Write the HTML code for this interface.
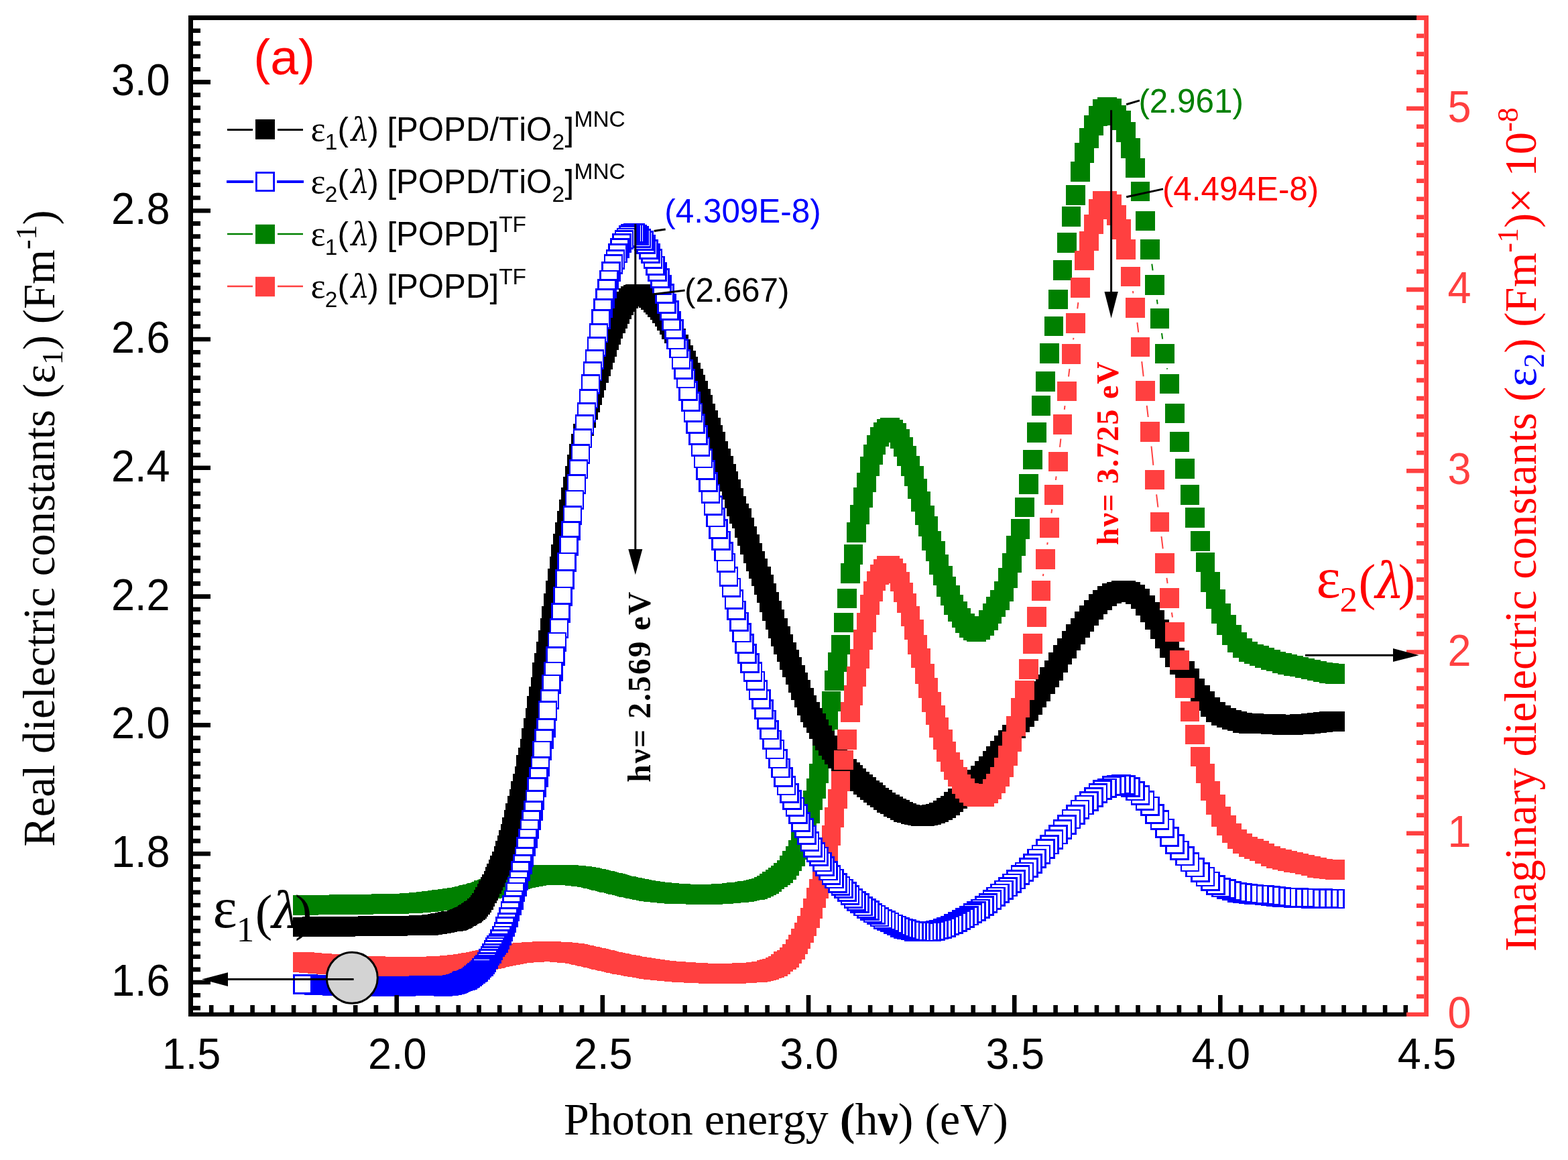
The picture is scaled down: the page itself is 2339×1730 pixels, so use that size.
<!DOCTYPE html>
<html><head><meta charset="utf-8"><title>Dielectric constants plot</title>
<style>
html,body{margin:0;padding:0;background:#fff;width:2339px;height:1730px;overflow:hidden}
svg{display:block}
text{font-kerning:none;font-variant-ligatures:none}
.sans{font-family:'Liberation Sans',Arial,sans-serif}
.serif{font-family:'Liberation Serif','Times New Roman',serif}
</style></head><body>
<svg xmlns="http://www.w3.org/2000/svg" width="2339" height="1730" viewBox="0 0 2339 1730">
<rect width="2339" height="1730" fill="#fff"/>
<path d="M1741.1 550.7L1740.9 549.2M1734.2 505.7L1733 496.9M1726.7 453.5L1725.8 446.9M1719.6 403.4L1718.3 393.6" stroke="#008000" stroke-width="2" fill="none"/>
<path d="M1976.9 990.3h28.8v29.6h-28.8zM1967.8 989.1h28.8v29.6h-28.8zM1958.9 987.6h28.8v29.6h-28.8zM1949.9 985.7h28.8v29.6h-28.8zM1941.1 983.5h28.8v29.6h-28.8zM1932.3 981.5h28.8v29.6h-28.8zM1923.6 979.6h28.8v29.6h-28.8zM1914.9 977.9h28.8v29.6h-28.8zM1906.3 976.2h28.8v29.6h-28.8zM1897.7 974.1h28.8v29.6h-28.8zM1889.2 971.6h28.8v29.6h-28.8zM1880.8 968.9h28.8v29.6h-28.8zM1872.4 966.1h28.8v29.6h-28.8zM1864 963.1h28.8v29.6h-28.8zM1855.8 960.7h28.8v29.6h-28.8zM1847.5 957.3h28.8v29.6h-28.8zM1839.4 951.8h28.8v29.6h-28.8zM1831.2 943.1h28.8v29.6h-28.8zM1823.2 932h28.8v29.6h-28.8zM1815.2 917.1h28.8v29.6h-28.8zM1807.2 900.4h28.8v29.6h-28.8zM1799.3 878.7h28.8v29.6h-28.8zM1791.4 853.3h28.8v29.6h-28.8zM1783.6 823.6h28.8v29.6h-28.8zM1775.9 792.3h28.8v29.6h-28.8zM1768.1 757.4h28.8v29.6h-28.8zM1760.5 723.2h28.8v29.6h-28.8zM1752.9 684.2h28.8v29.6h-28.8zM1745.3 644.3h28.8v29.6h-28.8zM1737.8 601.8h28.8v29.6h-28.8zM1730.3 557.6h28.8v29.6h-28.8zM1722.9 512.6h28.8v29.6h-28.8zM1715.5 460.4h28.8v29.6h-28.8zM1708.2 410.4h28.8v29.6h-28.8zM1700.9 357.1h28.8v29.6h-28.8zM1693.7 314.8h28.8v29.6h-28.8zM1686.5 270.5h28.8v29.6h-28.8zM1679.3 235.8h28.8v29.6h-28.8zM1672.2 205.9h28.8v29.6h-28.8zM1665.1 181.9h28.8v29.6h-28.8zM1658.1 164.5h28.8v29.6h-28.8zM1651.1 157.2h28.8v29.6h-28.8zM1644.2 147.2h28.8v29.6h-28.8zM1637.3 144.9h28.8v29.6h-28.8zM1630.4 148.4h28.8v29.6h-28.8zM1623.6 158h28.8v29.6h-28.8zM1616.8 172.4h28.8v29.6h-28.8zM1610.1 191.1h28.8v29.6h-28.8zM1603.4 213.2h28.8v29.6h-28.8zM1596.7 241h28.8v29.6h-28.8zM1590.1 276.1h28.8v29.6h-28.8zM1583.6 308.1h28.8v29.6h-28.8zM1577 346.9h28.8v29.6h-28.8zM1570.5 387.9h28.8v29.6h-28.8zM1564.1 431.6h28.8v29.6h-28.8zM1557.6 471.7h28.8v29.6h-28.8zM1551.2 512.4h28.8v29.6h-28.8zM1544.9 553.9h28.8v29.6h-28.8zM1538.6 590.2h28.8v29.6h-28.8zM1532.3 630h28.8v29.6h-28.8zM1526.1 670.8h28.8v29.6h-28.8zM1519.8 707h28.8v29.6h-28.8zM1513.7 741.5h28.8v29.6h-28.8zM1507.5 774.4h28.8v29.6h-28.8zM1501.4 799.1h28.8v29.6h-28.8zM1495.4 824.6h28.8v29.6h-28.8zM1489.3 847.2h28.8v29.6h-28.8zM1483.3 867.1h28.8v29.6h-28.8zM1477.4 880.3h28.8v29.6h-28.8zM1471.4 890.3h28.8v29.6h-28.8zM1465.5 900.2h28.8v29.6h-28.8zM1459.7 910h28.8v29.6h-28.8zM1453.8 918.5h28.8v29.6h-28.8zM1448 924.5h28.8v29.6h-28.8zM1442.3 927h28.8v29.6h-28.8zM1436.5 925.6h28.8v29.6h-28.8zM1430.8 921.3h28.8v29.6h-28.8zM1425.1 914.8h28.8v29.6h-28.8zM1419.5 906.6h28.8v29.6h-28.8zM1413.9 897.2h28.8v29.6h-28.8zM1408.3 887.3h28.8v29.6h-28.8zM1402.7 873.1h28.8v29.6h-28.8zM1397.2 859.9h28.8v29.6h-28.8zM1391.7 843.5h28.8v29.6h-28.8zM1386.2 827.1h28.8v29.6h-28.8zM1380.8 807.2h28.8v29.6h-28.8zM1375.4 791.5h28.8v29.6h-28.8zM1370 770.4h28.8v29.6h-28.8zM1364.7 753.5h28.8v29.6h-28.8zM1359.4 733h28.8v29.6h-28.8zM1354.1 714.4h28.8v29.6h-28.8zM1348.8 695h28.8v29.6h-28.8zM1343.6 680.3h28.8v29.6h-28.8zM1338.3 664.9h28.8v29.6h-28.8zM1333.2 651.6h28.8v29.6h-28.8zM1328 639.5h28.8v29.6h-28.8zM1322.9 630.5h28.8v29.6h-28.8zM1317.8 625.8h28.8v29.6h-28.8zM1312.7 623.2h28.8v29.6h-28.8zM1307.6 624.6h28.8v29.6h-28.8zM1302.6 629.7h28.8v29.6h-28.8zM1297.6 636.7h28.8v29.6h-28.8zM1292.6 648.6h28.8v29.6h-28.8zM1287.7 663.4h28.8v29.6h-28.8zM1282.8 680.8h28.8v29.6h-28.8zM1277.9 704.8h28.8v29.6h-28.8zM1273 727.2h28.8v29.6h-28.8zM1268.1 752.5h28.8v29.6h-28.8zM1263.3 779.2h28.8v29.6h-28.8zM1258.5 812h28.8v29.6h-28.8zM1253.7 839.9h28.8v29.6h-28.8zM1249 877.7h28.8v29.6h-28.8zM1244.3 913.6h28.8v29.6h-28.8zM1239.5 946.6h28.8v29.6h-28.8zM1234.9 972.8h28.8v29.6h-28.8zM1230.2 1000.1h28.8v29.6h-28.8zM1225.6 1031.3h28.8v29.6h-28.8zM1221 1058.7h28.8v29.6h-28.8zM1216.4 1083.9h28.8v29.6h-28.8zM1211.8 1109.3h28.8v29.6h-28.8zM1207.2 1138.7h28.8v29.6h-28.8zM1202.7 1161.4h28.8v29.6h-28.8zM1198.2 1178.5h28.8v29.6h-28.8zM1193.7 1198.2h28.8v29.6h-28.8zM1189.3 1214h28.8v29.6h-28.8zM1184.8 1228.4h28.8v29.6h-28.8zM1180.4 1241.4h28.8v29.6h-28.8zM1176 1252.6h28.8v29.6h-28.8zM1171.7 1261.9h28.8v29.6h-28.8zM1167.3 1269h28.8v29.6h-28.8zM1163 1276.2h28.8v29.6h-28.8zM1158.7 1282.6h28.8v29.6h-28.8zM1154.4 1287.3h28.8v29.6h-28.8zM1150.1 1290.6h28.8v29.6h-28.8zM1145.8 1293.5h28.8v29.6h-28.8zM1141.6 1296.8h28.8v29.6h-28.8zM1137.4 1300h28.8v29.6h-28.8zM1133.2 1303.1h28.8v29.6h-28.8zM1129 1305.7h28.8v29.6h-28.8zM1124.9 1307.8h28.8v29.6h-28.8zM1120.8 1309.5h28.8v29.6h-28.8zM1116.6 1310.9h28.8v29.6h-28.8zM1112.5 1311.9h28.8v29.6h-28.8zM1108.5 1312.7h28.8v29.6h-28.8zM1104.4 1313.6h28.8v29.6h-28.8zM1100.4 1314.4h28.8v29.6h-28.8zM1096.4 1315.1h28.8v29.6h-28.8zM1092.4 1315.6h28.8v29.6h-28.8zM1088.4 1316.1h28.8v29.6h-28.8zM1084.4 1316.4h28.8v29.6h-28.8zM1080.5 1316.8h28.8v29.6h-28.8zM1076.5 1317.2h28.8v29.6h-28.8zM1072.6 1317.5h28.8v29.6h-28.8zM1068.7 1317.8h28.8v29.6h-28.8zM1064.9 1318.1h28.8v29.6h-28.8zM1061 1318.4h28.8v29.6h-28.8zM1057.2 1318.6h28.8v29.6h-28.8zM1053.3 1318.8h28.8v29.6h-28.8zM1049.5 1318.9h28.8v29.6h-28.8zM1045.7 1319h28.8v29.6h-28.8zM1042 1319h28.8v29.6h-28.8zM1038.2 1319h28.8v29.6h-28.8zM1034.5 1319h28.8v29.6h-28.8zM1030.7 1319h28.8v29.6h-28.8zM1027 1318.9h28.8v29.6h-28.8zM1023.3 1318.9h28.8v29.6h-28.8zM1019.7 1318.8h28.8v29.6h-28.8zM1016 1318.8h28.8v29.6h-28.8zM1012.4 1318.7h28.8v29.6h-28.8zM1008.7 1318.6h28.8v29.6h-28.8zM1005.1 1318.5h28.8v29.6h-28.8zM1001.5 1318.4h28.8v29.6h-28.8zM998 1318.3h28.8v29.6h-28.8zM994.4 1318.1h28.8v29.6h-28.8zM990.8 1317.9h28.8v29.6h-28.8zM987.3 1317.7h28.8v29.6h-28.8zM983.8 1317.4h28.8v29.6h-28.8zM980.3 1317.1h28.8v29.6h-28.8zM976.8 1316.8h28.8v29.6h-28.8zM973.3 1316.4h28.8v29.6h-28.8zM969.9 1316.1h28.8v29.6h-28.8zM966.4 1315.7h28.8v29.6h-28.8zM963 1315.4h28.8v29.6h-28.8zM959.6 1314.9h28.8v29.6h-28.8zM956.2 1314.4h28.8v29.6h-28.8zM952.8 1313.9h28.8v29.6h-28.8zM949.4 1313.3h28.8v29.6h-28.8zM946.1 1312.7h28.8v29.6h-28.8zM942.7 1312h28.8v29.6h-28.8zM939.4 1311.4h28.8v29.6h-28.8zM936.1 1310.7h28.8v29.6h-28.8zM932.8 1310.1h28.8v29.6h-28.8zM929.5 1309.4h28.8v29.6h-28.8zM926.2 1308.7h28.8v29.6h-28.8zM923 1308h28.8v29.6h-28.8zM919.7 1307.3h28.8v29.6h-28.8zM916.5 1306.5h28.8v29.6h-28.8zM913.3 1305.7h28.8v29.6h-28.8zM910 1304.8h28.8v29.6h-28.8zM906.9 1304h28.8v29.6h-28.8zM903.7 1303.2h28.8v29.6h-28.8zM900.5 1302.4h28.8v29.6h-28.8zM897.3 1301.6h28.8v29.6h-28.8zM894.2 1300.9h28.8v29.6h-28.8zM891.1 1300.1h28.8v29.6h-28.8zM888 1299.4h28.8v29.6h-28.8zM884.9 1298.7h28.8v29.6h-28.8zM881.8 1297.9h28.8v29.6h-28.8zM878.7 1297.2h28.8v29.6h-28.8zM875.6 1296.4h28.8v29.6h-28.8zM872.6 1295.7h28.8v29.6h-28.8zM869.5 1295h28.8v29.6h-28.8zM866.5 1294.4h28.8v29.6h-28.8zM863.5 1293.7h28.8v29.6h-28.8zM860.5 1293.2h28.8v29.6h-28.8zM857.5 1292.7h28.8v29.6h-28.8zM854.5 1292.3h28.8v29.6h-28.8zM851.5 1292h28.8v29.6h-28.8zM848.5 1291.7h28.8v29.6h-28.8zM845.6 1291.4h28.8v29.6h-28.8zM842.7 1291.1h28.8v29.6h-28.8zM839.7 1290.8h28.8v29.6h-28.8zM836.8 1290.5h28.8v29.6h-28.8zM833.9 1290.3h28.8v29.6h-28.8zM831 1290.1h28.8v29.6h-28.8zM828.2 1289.9h28.8v29.6h-28.8zM825.3 1289.7h28.8v29.6h-28.8zM822.4 1289.6h28.8v29.6h-28.8zM819.6 1289.5h28.8v29.6h-28.8zM816.7 1289.5h28.8v29.6h-28.8zM813.9 1289.5h28.8v29.6h-28.8zM811.1 1289.5h28.8v29.6h-28.8zM808.3 1289.6h28.8v29.6h-28.8zM805.5 1289.7h28.8v29.6h-28.8zM802.7 1289.8h28.8v29.6h-28.8zM800 1289.9h28.8v29.6h-28.8zM797.2 1290h28.8v29.6h-28.8zM794.4 1290.2h28.8v29.6h-28.8zM791.7 1290.4h28.8v29.6h-28.8zM789 1290.7h28.8v29.6h-28.8zM786.3 1291h28.8v29.6h-28.8zM783.6 1291.5h28.8v29.6h-28.8zM780.9 1292h28.8v29.6h-28.8zM778.2 1292.5h28.8v29.6h-28.8zM775.5 1293h28.8v29.6h-28.8zM772.8 1293.6h28.8v29.6h-28.8zM770.2 1294.1h28.8v29.6h-28.8zM767.5 1294.7h28.8v29.6h-28.8zM764.9 1295.4h28.8v29.6h-28.8zM762.2 1296.1h28.8v29.6h-28.8zM759.6 1296.8h28.8v29.6h-28.8zM757 1297.6h28.8v29.6h-28.8zM754.4 1298.4h28.8v29.6h-28.8zM751.8 1299.3h28.8v29.6h-28.8zM749.3 1300.1h28.8v29.6h-28.8zM746.7 1301h28.8v29.6h-28.8zM744.1 1301.9h28.8v29.6h-28.8zM741.6 1302.8h28.8v29.6h-28.8zM739 1303.7h28.8v29.6h-28.8zM736.5 1304.6h28.8v29.6h-28.8zM734 1305.4h28.8v29.6h-28.8zM731.4 1306.3h28.8v29.6h-28.8zM728.9 1307.1h28.8v29.6h-28.8zM726.4 1307.9h28.8v29.6h-28.8zM724 1308.7h28.8v29.6h-28.8zM721.5 1309.4h28.8v29.6h-28.8zM719 1310.1h28.8v29.6h-28.8zM716.5 1310.7h28.8v29.6h-28.8zM714.1 1311.3h28.8v29.6h-28.8zM711.7 1311.8h28.8v29.6h-28.8zM709.2 1312.5h28.8v29.6h-28.8zM706.8 1313.4h28.8v29.6h-28.8zM704.4 1314.5h28.8v29.6h-28.8zM702 1315.6h28.8v29.6h-28.8zM699.6 1316.5h28.8v29.6h-28.8zM697.2 1317.3h28.8v29.6h-28.8zM694.8 1318h28.8v29.6h-28.8zM692.4 1318.6h28.8v29.6h-28.8zM690 1319.3h28.8v29.6h-28.8zM687.7 1319.8h28.8v29.6h-28.8zM685.3 1320.4h28.8v29.6h-28.8zM683 1321h28.8v29.6h-28.8zM680.7 1321.5h28.8v29.6h-28.8zM678.3 1322.1h28.8v29.6h-28.8zM676 1322.6h28.8v29.6h-28.8zM673.7 1323.1h28.8v29.6h-28.8zM671.4 1323.6h28.8v29.6h-28.8zM669.1 1324h28.8v29.6h-28.8zM666.8 1324.4h28.8v29.6h-28.8zM664.6 1324.7h28.8v29.6h-28.8zM662.3 1325h28.8v29.6h-28.8zM660 1325.4h28.8v29.6h-28.8zM657.8 1325.7h28.8v29.6h-28.8zM655.5 1325.9h28.8v29.6h-28.8zM653.3 1326.2h28.8v29.6h-28.8zM651.1 1326.5h28.8v29.6h-28.8zM648.8 1326.8h28.8v29.6h-28.8zM646.6 1327.1h28.8v29.6h-28.8zM644.4 1327.4h28.8v29.6h-28.8zM642.2 1327.7h28.8v29.6h-28.8zM640 1328h28.8v29.6h-28.8zM637.8 1328.3h28.8v29.6h-28.8zM635.6 1328.6h28.8v29.6h-28.8zM633.5 1328.9h28.8v29.6h-28.8zM631.3 1329.1h28.8v29.6h-28.8zM629.2 1329.4h28.8v29.6h-28.8zM627 1329.6h28.8v29.6h-28.8zM624.9 1329.9h28.8v29.6h-28.8zM622.7 1330.1h28.8v29.6h-28.8zM620.6 1330.3h28.8v29.6h-28.8zM618.5 1330.6h28.8v29.6h-28.8zM616.4 1330.7h28.8v29.6h-28.8zM614.3 1330.9h28.8v29.6h-28.8zM612.2 1331.1h28.8v29.6h-28.8zM610.1 1331.3h28.8v29.6h-28.8zM608 1331.5h28.8v29.6h-28.8zM605.9 1331.7h28.8v29.6h-28.8zM603.8 1331.8h28.8v29.6h-28.8zM601.8 1332h28.8v29.6h-28.8zM599.7 1332.1h28.8v29.6h-28.8zM597.7 1332.3h28.8v29.6h-28.8zM595.6 1332.4h28.8v29.6h-28.8zM593.6 1332.5h28.8v29.6h-28.8zM591.5 1332.6h28.8v29.6h-28.8zM589.5 1332.7h28.8v29.6h-28.8zM587.5 1332.7h28.8v29.6h-28.8zM585.5 1332.8h28.8v29.6h-28.8zM583.5 1332.8h28.8v29.6h-28.8zM581.5 1332.9h28.8v29.6h-28.8zM579.5 1332.9h28.8v29.6h-28.8zM577.5 1333h28.8v29.6h-28.8zM575.5 1333h28.8v29.6h-28.8zM573.6 1333.1h28.8v29.6h-28.8zM571.6 1333.1h28.8v29.6h-28.8zM569.6 1333.1h28.8v29.6h-28.8zM567.7 1333.2h28.8v29.6h-28.8zM565.7 1333.2h28.8v29.6h-28.8zM563.8 1333.3h28.8v29.6h-28.8zM561.8 1333.3h28.8v29.6h-28.8zM559.9 1333.3h28.8v29.6h-28.8zM558 1333.4h28.8v29.6h-28.8zM556.1 1333.4h28.8v29.6h-28.8zM554.2 1333.4h28.8v29.6h-28.8zM552.3 1333.5h28.8v29.6h-28.8zM550.4 1333.5h28.8v29.6h-28.8zM548.5 1333.5h28.8v29.6h-28.8zM546.6 1333.6h28.8v29.6h-28.8zM544.7 1333.6h28.8v29.6h-28.8zM542.8 1333.6h28.8v29.6h-28.8zM541 1333.7h28.8v29.6h-28.8zM539.1 1333.7h28.8v29.6h-28.8zM537.2 1333.7h28.8v29.6h-28.8zM535.4 1333.8h28.8v29.6h-28.8zM533.5 1333.8h28.8v29.6h-28.8zM531.7 1333.8h28.8v29.6h-28.8zM529.9 1333.8h28.8v29.6h-28.8zM528 1333.9h28.8v29.6h-28.8zM526.2 1333.9h28.8v29.6h-28.8zM524.4 1333.9h28.8v29.6h-28.8zM522.6 1334h28.8v29.6h-28.8zM520.8 1334h28.8v29.6h-28.8zM519 1334h28.8v29.6h-28.8zM517.2 1334.1h28.8v29.6h-28.8zM515.4 1334.1h28.8v29.6h-28.8zM513.6 1334.1h28.8v29.6h-28.8zM511.8 1334.1h28.8v29.6h-28.8zM510 1334.2h28.8v29.6h-28.8zM508.3 1334.2h28.8v29.6h-28.8zM506.5 1334.2h28.8v29.6h-28.8zM504.8 1334.2h28.8v29.6h-28.8zM503 1334.3h28.8v29.6h-28.8zM501.3 1334.3h28.8v29.6h-28.8zM499.5 1334.3h28.8v29.6h-28.8zM497.8 1334.3h28.8v29.6h-28.8zM496 1334.4h28.8v29.6h-28.8zM494.3 1334.4h28.8v29.6h-28.8zM492.6 1334.4h28.8v29.6h-28.8zM490.9 1334.4h28.8v29.6h-28.8zM489.2 1334.5h28.8v29.6h-28.8zM487.5 1334.5h28.8v29.6h-28.8zM485.8 1334.5h28.8v29.6h-28.8zM484.1 1334.5h28.8v29.6h-28.8zM482.4 1334.5h28.8v29.6h-28.8zM480.7 1334.6h28.8v29.6h-28.8zM479 1334.6h28.8v29.6h-28.8zM477.3 1334.6h28.8v29.6h-28.8zM475.7 1334.6h28.8v29.6h-28.8zM474 1334.6h28.8v29.6h-28.8zM472.3 1334.6h28.8v29.6h-28.8zM470.7 1334.7h28.8v29.6h-28.8zM469 1334.7h28.8v29.6h-28.8zM467.4 1334.7h28.8v29.6h-28.8zM465.8 1334.7h28.8v29.6h-28.8zM464.1 1334.7h28.8v29.6h-28.8zM462.5 1334.7h28.8v29.6h-28.8zM460.9 1334.8h28.8v29.6h-28.8zM459.2 1334.8h28.8v29.6h-28.8zM457.6 1334.8h28.8v29.6h-28.8zM456 1334.8h28.8v29.6h-28.8zM454.4 1334.8h28.8v29.6h-28.8zM452.8 1334.8h28.8v29.6h-28.8zM451.2 1334.8h28.8v29.6h-28.8zM449.6 1334.8h28.8v29.6h-28.8zM448 1334.8h28.8v29.6h-28.8zM446.4 1334.9h28.8v29.6h-28.8zM444.8 1334.9h28.8v29.6h-28.8zM443.3 1334.9h28.8v29.6h-28.8zM441.7 1334.9h28.8v29.6h-28.8zM440.1 1334.9h28.8v29.6h-28.8zM438.6 1334.9h28.8v29.6h-28.8zM437 1334.9h28.8v29.6h-28.8z" fill="#008000" shape-rendering="crispEdges"/>

<path d="M1976.9 1061h28.8v29.6h-28.8zM1967.8 1061.3h28.8v29.6h-28.8zM1958.9 1061.9h28.8v29.6h-28.8zM1949.9 1063h28.8v29.6h-28.8zM1941.1 1063.9h28.8v29.6h-28.8zM1932.3 1064.9h28.8v29.6h-28.8zM1923.6 1065.4h28.8v29.6h-28.8zM1914.9 1065.9h28.8v29.6h-28.8zM1906.3 1066.1h28.8v29.6h-28.8zM1897.7 1066.1h28.8v29.6h-28.8zM1889.2 1065.3h28.8v29.6h-28.8zM1880.8 1064.9h28.8v29.6h-28.8zM1872.4 1064.7h28.8v29.6h-28.8zM1864 1064.5h28.8v29.6h-28.8zM1855.8 1064.3h28.8v29.6h-28.8zM1847.5 1063.9h28.8v29.6h-28.8zM1839.4 1063.3h28.8v29.6h-28.8zM1831.2 1060.7h28.8v29.6h-28.8zM1823.2 1058.7h28.8v29.6h-28.8zM1815.2 1055.7h28.8v29.6h-28.8zM1807.2 1052.3h28.8v29.6h-28.8zM1799.3 1047.3h28.8v29.6h-28.8zM1791.4 1039.5h28.8v29.6h-28.8zM1783.6 1030.5h28.8v29.6h-28.8zM1775.9 1021.7h28.8v29.6h-28.8zM1768.1 1011.6h28.8v29.6h-28.8zM1760.5 997.3h28.8v29.6h-28.8zM1752.9 985.6h28.8v29.6h-28.8zM1745.3 976.1h28.8v29.6h-28.8zM1737.8 965.6h28.8v29.6h-28.8zM1730.3 951.4h28.8v29.6h-28.8zM1722.9 937h28.8v29.6h-28.8zM1715.5 923.6h28.8v29.6h-28.8zM1708.2 909.7h28.8v29.6h-28.8zM1700.9 897.9h28.8v29.6h-28.8zM1693.7 888h28.8v29.6h-28.8zM1686.5 878.1h28.8v29.6h-28.8zM1679.3 871.8h28.8v29.6h-28.8zM1672.2 867.9h28.8v29.6h-28.8zM1665.1 866.2h28.8v29.6h-28.8zM1658.1 866.1h28.8v29.6h-28.8zM1651.1 867.7h28.8v29.6h-28.8zM1644.2 870.4h28.8v29.6h-28.8zM1637.3 873.9h28.8v29.6h-28.8zM1630.4 879.9h28.8v29.6h-28.8zM1623.6 886.4h28.8v29.6h-28.8zM1616.8 894.5h28.8v29.6h-28.8zM1610.1 903.1h28.8v29.6h-28.8zM1603.4 912.4h28.8v29.6h-28.8zM1596.7 921.8h28.8v29.6h-28.8zM1590.1 931.1h28.8v29.6h-28.8zM1583.6 940.5h28.8v29.6h-28.8zM1577 952.2h28.8v29.6h-28.8zM1570.5 961.6h28.8v29.6h-28.8zM1564.1 973.3h28.8v29.6h-28.8zM1557.6 984.9h28.8v29.6h-28.8zM1551.2 995.4h28.8v29.6h-28.8zM1544.9 1005.6h28.8v29.6h-28.8zM1538.6 1016h28.8v29.6h-28.8zM1532.3 1025.8h28.8v29.6h-28.8zM1526.1 1036.2h28.8v29.6h-28.8zM1519.8 1045.4h28.8v29.6h-28.8zM1513.7 1054.8h28.8v29.6h-28.8zM1507.5 1062.5h28.8v29.6h-28.8zM1501.4 1071.6h28.8v29.6h-28.8zM1495.4 1080.7h28.8v29.6h-28.8zM1489.3 1088.7h28.8v29.6h-28.8zM1483.3 1096.9h28.8v29.6h-28.8zM1477.4 1105h28.8v29.6h-28.8zM1471.4 1112.9h28.8v29.6h-28.8zM1465.5 1119.8h28.8v29.6h-28.8zM1459.7 1127.8h28.8v29.6h-28.8zM1453.8 1134.7h28.8v29.6h-28.8zM1448 1141.5h28.8v29.6h-28.8zM1442.3 1147.8h28.8v29.6h-28.8zM1436.5 1153.9h28.8v29.6h-28.8zM1430.8 1159.7h28.8v29.6h-28.8zM1425.1 1165.3h28.8v29.6h-28.8zM1419.5 1170.8h28.8v29.6h-28.8zM1413.9 1176h28.8v29.6h-28.8zM1408.3 1180.9h28.8v29.6h-28.8zM1402.7 1186.5h28.8v29.6h-28.8zM1397.2 1190h28.8v29.6h-28.8zM1391.7 1193.7h28.8v29.6h-28.8zM1386.2 1196.6h28.8v29.6h-28.8zM1380.8 1198.5h28.8v29.6h-28.8zM1375.4 1200h28.8v29.6h-28.8zM1370 1201.1h28.8v29.6h-28.8zM1364.7 1202h28.8v29.6h-28.8zM1359.4 1202.1h28.8v29.6h-28.8zM1354.1 1201.6h28.8v29.6h-28.8zM1348.8 1200.7h28.8v29.6h-28.8zM1343.6 1199.6h28.8v29.6h-28.8zM1338.3 1197.7h28.8v29.6h-28.8zM1333.2 1196.1h28.8v29.6h-28.8zM1328 1193h28.8v29.6h-28.8zM1322.9 1190.7h28.8v29.6h-28.8zM1317.8 1187.9h28.8v29.6h-28.8zM1312.7 1184.8h28.8v29.6h-28.8zM1307.6 1181.9h28.8v29.6h-28.8zM1302.6 1177.9h28.8v29.6h-28.8zM1297.6 1174.7h28.8v29.6h-28.8zM1292.6 1171.2h28.8v29.6h-28.8zM1287.7 1167.1h28.8v29.6h-28.8zM1282.8 1163.8h28.8v29.6h-28.8zM1277.9 1158.9h28.8v29.6h-28.8zM1273 1154.9h28.8v29.6h-28.8zM1268.1 1150.5h28.8v29.6h-28.8zM1263.3 1146h28.8v29.6h-28.8zM1258.5 1141.3h28.8v29.6h-28.8zM1253.7 1136.6h28.8v29.6h-28.8zM1249 1132.3h28.8v29.6h-28.8zM1244.3 1127.2h28.8v29.6h-28.8zM1239.5 1121.9h28.8v29.6h-28.8zM1234.9 1116.2h28.8v29.6h-28.8zM1230.2 1110.2h28.8v29.6h-28.8zM1225.6 1103.8h28.8v29.6h-28.8zM1221 1097h28.8v29.6h-28.8zM1216.4 1089.8h28.8v29.6h-28.8zM1211.8 1082.1h28.8v29.6h-28.8zM1207.2 1072.8h28.8v29.6h-28.8zM1202.7 1063.6h28.8v29.6h-28.8zM1198.2 1055.5h28.8v29.6h-28.8zM1193.7 1047h28.8v29.6h-28.8zM1189.3 1037.3h28.8v29.6h-28.8zM1184.8 1025.8h28.8v29.6h-28.8zM1180.4 1014.3h28.8v29.6h-28.8zM1176 1002.9h28.8v29.6h-28.8zM1171.7 991.7h28.8v29.6h-28.8zM1167.3 980.4h28.8v29.6h-28.8zM1163 969.1h28.8v29.6h-28.8zM1158.7 957.6h28.8v29.6h-28.8zM1154.4 946h28.8v29.6h-28.8zM1150.1 934.2h28.8v29.6h-28.8zM1145.8 921.9h28.8v29.6h-28.8zM1141.6 908.9h28.8v29.6h-28.8zM1137.4 895.9h28.8v29.6h-28.8zM1133.2 883.4h28.8v29.6h-28.8zM1129 869.8h28.8v29.6h-28.8zM1124.9 857h28.8v29.6h-28.8zM1120.8 844.6h28.8v29.6h-28.8zM1116.6 833h28.8v29.6h-28.8zM1112.5 822.1h28.8v29.6h-28.8zM1108.5 809.9h28.8v29.6h-28.8zM1104.4 797.4h28.8v29.6h-28.8zM1100.4 784.6h28.8v29.6h-28.8zM1096.4 772.3h28.8v29.6h-28.8zM1092.4 758.2h28.8v29.6h-28.8zM1088.4 751.3h28.8v29.6h-28.8zM1084.4 740.1h28.8v29.6h-28.8zM1080.5 728h28.8v29.6h-28.8zM1076.5 715.2h28.8v29.6h-28.8zM1072.6 703.3h28.8v29.6h-28.8zM1068.7 691.9h28.8v29.6h-28.8zM1064.9 680.3h28.8v29.6h-28.8zM1061 669.3h28.8v29.6h-28.8zM1057.2 658.1h28.8v29.6h-28.8zM1053.3 643.6h28.8v29.6h-28.8zM1049.5 633.5h28.8v29.6h-28.8zM1045.7 623.1h28.8v29.6h-28.8zM1042 612.3h28.8v29.6h-28.8zM1038.2 601.5h28.8v29.6h-28.8zM1034.5 589.2h28.8v29.6h-28.8zM1030.7 579.8h28.8v29.6h-28.8zM1027 568.3h28.8v29.6h-28.8zM1023.3 559h28.8v29.6h-28.8zM1019.7 550.3h28.8v29.6h-28.8zM1016 541.4h28.8v29.6h-28.8zM1012.4 531.8h28.8v29.6h-28.8zM1008.7 523.1h28.8v29.6h-28.8zM1005.1 514.8h28.8v29.6h-28.8zM1001.5 506h28.8v29.6h-28.8zM998 498.8h28.8v29.6h-28.8zM994.4 489.8h28.8v29.6h-28.8zM990.8 482.3h28.8v29.6h-28.8zM987.3 476.5h28.8v29.6h-28.8zM983.8 469.6h28.8v29.6h-28.8zM980.3 463.5h28.8v29.6h-28.8zM976.8 457.6h28.8v29.6h-28.8zM973.3 452.6h28.8v29.6h-28.8zM969.9 447.1h28.8v29.6h-28.8zM966.4 443.4h28.8v29.6h-28.8zM963 439.4h28.8v29.6h-28.8zM959.6 436.1h28.8v29.6h-28.8zM956.2 432.8h28.8v29.6h-28.8zM952.8 429.7h28.8v29.6h-28.8zM949.4 427.1h28.8v29.6h-28.8zM946.1 425.2h28.8v29.6h-28.8zM942.7 424.1h28.8v29.6h-28.8zM939.4 424h28.8v29.6h-28.8zM936.1 424h28.8v29.6h-28.8zM932.8 424.1h28.8v29.6h-28.8zM929.5 424.7h28.8v29.6h-28.8zM926.2 426.9h28.8v29.6h-28.8zM923 430.4h28.8v29.6h-28.8zM919.7 435.2h28.8v29.6h-28.8zM916.5 440.6h28.8v29.6h-28.8zM913.3 446.6h28.8v29.6h-28.8zM910 453.1h28.8v29.6h-28.8zM906.9 460.2h28.8v29.6h-28.8zM903.7 467.7h28.8v29.6h-28.8zM900.5 475.6h28.8v29.6h-28.8zM897.3 484h28.8v29.6h-28.8zM894.2 492.8h28.8v29.6h-28.8zM891.1 502h28.8v29.6h-28.8zM888 511.5h28.8v29.6h-28.8zM884.9 521.3h28.8v29.6h-28.8zM881.8 531.4h28.8v29.6h-28.8zM878.7 541.8h28.8v29.6h-28.8zM875.6 552.4h28.8v29.6h-28.8zM872.6 563.2h28.8v29.6h-28.8zM869.5 574.2h28.8v29.6h-28.8zM866.5 585.4h28.8v29.6h-28.8zM863.5 596.8h28.8v29.6h-28.8zM860.5 608.3h28.8v29.6h-28.8zM857.5 619.9h28.8v29.6h-28.8zM854.5 631.7h28.8v29.6h-28.8zM851.5 646.5h28.8v29.6h-28.8zM848.5 662.4h28.8v29.6h-28.8zM845.6 678.1h28.8v29.6h-28.8zM842.7 694.9h28.8v29.6h-28.8zM839.7 710.8h28.8v29.6h-28.8zM836.8 727.3h28.8v29.6h-28.8zM833.9 744.9h28.8v29.6h-28.8zM831 762.2h28.8v29.6h-28.8zM828.2 778.6h28.8v29.6h-28.8zM825.3 795.8h28.8v29.6h-28.8zM822.4 812.4h28.8v29.6h-28.8zM819.6 829.8h28.8v29.6h-28.8zM816.7 847.9h28.8v29.6h-28.8zM813.9 866.4h28.8v29.6h-28.8zM811.1 885.1h28.8v29.6h-28.8zM808.3 903.8h28.8v29.6h-28.8zM805.5 922.2h28.8v29.6h-28.8zM802.7 940.1h28.8v29.6h-28.8zM800 957.4h28.8v29.6h-28.8zM797.2 973.7h28.8v29.6h-28.8zM794.4 988.3h28.8v29.6h-28.8zM791.7 1009.8h28.8v29.6h-28.8zM789 1023.9h28.8v29.6h-28.8zM786.3 1038.2h28.8v29.6h-28.8zM783.6 1056.3h28.8v29.6h-28.8zM780.9 1071.4h28.8v29.6h-28.8zM778.2 1085.7h28.8v29.6h-28.8zM775.5 1101.7h28.8v29.6h-28.8zM772.8 1114.9h28.8v29.6h-28.8zM770.2 1126.3h28.8v29.6h-28.8zM767.5 1142.5h28.8v29.6h-28.8zM764.9 1154h28.8v29.6h-28.8zM762.2 1165.1h28.8v29.6h-28.8zM759.6 1176.6h28.8v29.6h-28.8zM757 1187.4h28.8v29.6h-28.8zM754.4 1197.8h28.8v29.6h-28.8zM751.8 1208.2h28.8v29.6h-28.8zM749.3 1218.7h28.8v29.6h-28.8zM746.7 1228.8h28.8v29.6h-28.8zM744.1 1237.9h28.8v29.6h-28.8zM741.6 1246.4h28.8v29.6h-28.8zM739 1254.4h28.8v29.6h-28.8zM736.5 1262h28.8v29.6h-28.8zM734 1269.6h28.8v29.6h-28.8zM731.4 1276.4h28.8v29.6h-28.8zM728.9 1282.3h28.8v29.6h-28.8zM726.4 1287.8h28.8v29.6h-28.8zM724 1293.3h28.8v29.6h-28.8zM721.5 1298.5h28.8v29.6h-28.8zM719 1303.5h28.8v29.6h-28.8zM716.5 1308.2h28.8v29.6h-28.8zM714.1 1313h28.8v29.6h-28.8zM711.7 1317.8h28.8v29.6h-28.8zM709.2 1322.5h28.8v29.6h-28.8zM706.8 1327.2h28.8v29.6h-28.8zM704.4 1331.5h28.8v29.6h-28.8zM702 1334.8h28.8v29.6h-28.8zM699.6 1337.8h28.8v29.6h-28.8zM697.2 1340.3h28.8v29.6h-28.8zM694.8 1342.5h28.8v29.6h-28.8zM692.4 1344.3h28.8v29.6h-28.8zM690 1345.9h28.8v29.6h-28.8zM687.7 1347.3h28.8v29.6h-28.8zM685.3 1348.7h28.8v29.6h-28.8zM683 1350.1h28.8v29.6h-28.8zM680.7 1351.5h28.8v29.6h-28.8zM678.3 1352.8h28.8v29.6h-28.8zM676 1354h28.8v29.6h-28.8zM673.7 1355.2h28.8v29.6h-28.8zM671.4 1356.4h28.8v29.6h-28.8zM669.1 1357.4h28.8v29.6h-28.8zM666.8 1358.1h28.8v29.6h-28.8zM664.6 1358.5h28.8v29.6h-28.8zM662.3 1358.9h28.8v29.6h-28.8zM660 1359.2h28.8v29.6h-28.8zM657.8 1359.4h28.8v29.6h-28.8zM655.5 1359.7h28.8v29.6h-28.8zM653.3 1360.1h28.8v29.6h-28.8zM651.1 1360.6h28.8v29.6h-28.8zM648.8 1361.1h28.8v29.6h-28.8zM646.6 1361.6h28.8v29.6h-28.8zM644.4 1362h28.8v29.6h-28.8zM642.2 1362.4h28.8v29.6h-28.8zM640 1362.8h28.8v29.6h-28.8zM637.8 1363.1h28.8v29.6h-28.8zM635.6 1363.5h28.8v29.6h-28.8zM633.5 1363.8h28.8v29.6h-28.8zM631.3 1364.1h28.8v29.6h-28.8zM629.2 1364.4h28.8v29.6h-28.8zM627 1364.7h28.8v29.6h-28.8zM624.9 1364.9h28.8v29.6h-28.8zM622.7 1365.1h28.8v29.6h-28.8zM620.6 1365.2h28.8v29.6h-28.8zM618.5 1365.2h28.8v29.6h-28.8zM616.4 1365.3h28.8v29.6h-28.8zM614.3 1365.4h28.8v29.6h-28.8zM612.2 1365.4h28.8v29.6h-28.8zM610.1 1365.4h28.8v29.6h-28.8zM608 1365.5h28.8v29.6h-28.8zM605.9 1365.5h28.8v29.6h-28.8zM603.8 1365.6h28.8v29.6h-28.8zM601.8 1365.6h28.8v29.6h-28.8zM599.7 1365.6h28.8v29.6h-28.8zM597.7 1365.7h28.8v29.6h-28.8zM595.6 1365.7h28.8v29.6h-28.8zM593.6 1365.7h28.8v29.6h-28.8zM591.5 1365.7h28.8v29.6h-28.8zM589.5 1365.8h28.8v29.6h-28.8zM587.5 1365.8h28.8v29.6h-28.8zM585.5 1365.8h28.8v29.6h-28.8zM583.5 1365.8h28.8v29.6h-28.8zM581.5 1365.8h28.8v29.6h-28.8zM579.5 1365.9h28.8v29.6h-28.8zM577.5 1365.9h28.8v29.6h-28.8zM575.5 1365.9h28.8v29.6h-28.8zM573.6 1365.9h28.8v29.6h-28.8zM571.6 1365.9h28.8v29.6h-28.8zM569.6 1366h28.8v29.6h-28.8zM567.7 1366h28.8v29.6h-28.8zM565.7 1366h28.8v29.6h-28.8zM563.8 1366h28.8v29.6h-28.8zM561.8 1366.1h28.8v29.6h-28.8zM559.9 1366.1h28.8v29.6h-28.8zM558 1366.1h28.8v29.6h-28.8zM556.1 1366.1h28.8v29.6h-28.8zM554.2 1366.2h28.8v29.6h-28.8zM552.3 1366.2h28.8v29.6h-28.8zM550.4 1366.2h28.8v29.6h-28.8zM548.5 1366.2h28.8v29.6h-28.8zM546.6 1366.3h28.8v29.6h-28.8zM544.7 1366.3h28.8v29.6h-28.8zM542.8 1366.3h28.8v29.6h-28.8zM541 1366.3h28.8v29.6h-28.8zM539.1 1366.4h28.8v29.6h-28.8zM537.2 1366.4h28.8v29.6h-28.8zM535.4 1366.4h28.8v29.6h-28.8zM533.5 1366.4h28.8v29.6h-28.8zM531.7 1366.5h28.8v29.6h-28.8zM529.9 1366.5h28.8v29.6h-28.8zM528 1366.5h28.8v29.6h-28.8zM526.2 1366.5h28.8v29.6h-28.8zM524.4 1366.6h28.8v29.6h-28.8zM522.6 1366.6h28.8v29.6h-28.8zM520.8 1366.6h28.8v29.6h-28.8zM519 1366.6h28.8v29.6h-28.8zM517.2 1366.7h28.8v29.6h-28.8zM515.4 1366.7h28.8v29.6h-28.8zM513.6 1366.7h28.8v29.6h-28.8zM511.8 1366.7h28.8v29.6h-28.8zM510 1366.7h28.8v29.6h-28.8zM508.3 1366.8h28.8v29.6h-28.8zM506.5 1366.8h28.8v29.6h-28.8zM504.8 1366.8h28.8v29.6h-28.8zM503 1366.8h28.8v29.6h-28.8zM501.3 1366.9h28.8v29.6h-28.8zM499.5 1366.9h28.8v29.6h-28.8zM497.8 1366.9h28.8v29.6h-28.8zM496 1366.9h28.8v29.6h-28.8zM494.3 1366.9h28.8v29.6h-28.8zM492.6 1367h28.8v29.6h-28.8zM490.9 1367h28.8v29.6h-28.8zM489.2 1367h28.8v29.6h-28.8zM487.5 1367h28.8v29.6h-28.8zM485.8 1367h28.8v29.6h-28.8zM484.1 1367.1h28.8v29.6h-28.8zM482.4 1367.1h28.8v29.6h-28.8zM480.7 1367.1h28.8v29.6h-28.8zM479 1367.1h28.8v29.6h-28.8zM477.3 1367.1h28.8v29.6h-28.8zM475.7 1367.2h28.8v29.6h-28.8zM474 1367.2h28.8v29.6h-28.8zM472.3 1367.2h28.8v29.6h-28.8zM470.7 1367.2h28.8v29.6h-28.8zM469 1367.2h28.8v29.6h-28.8zM467.4 1367.3h28.8v29.6h-28.8zM465.8 1367.3h28.8v29.6h-28.8zM464.1 1367.3h28.8v29.6h-28.8zM462.5 1367.3h28.8v29.6h-28.8zM460.9 1367.3h28.8v29.6h-28.8zM459.2 1367.4h28.8v29.6h-28.8zM457.6 1367.4h28.8v29.6h-28.8zM456 1367.4h28.8v29.6h-28.8zM454.4 1367.4h28.8v29.6h-28.8zM452.8 1367.4h28.8v29.6h-28.8zM451.2 1367.4h28.8v29.6h-28.8zM449.6 1367.5h28.8v29.6h-28.8zM448 1367.5h28.8v29.6h-28.8zM446.4 1367.5h28.8v29.6h-28.8zM444.8 1367.5h28.8v29.6h-28.8zM443.3 1367.5h28.8v29.6h-28.8zM441.7 1367.5h28.8v29.6h-28.8zM440.1 1367.6h28.8v29.6h-28.8zM438.6 1367.6h28.8v29.6h-28.8zM437 1367.6h28.8v29.6h-28.8z" fill="#000" shape-rendering="crispEdges"/>
<path d="M1749 920.6L1747.9 913.5M1741.6 870L1740.4 861.9M1734.7 818.4L1732.5 800M1727.4 756.5L1725.1 737.3M1720.4 693.8L1717.5 665.5M1712.7 622L1710.7 604.9M1705.7 561.4L1703.2 539.2M1698.2 495.7L1696.4 480.9M1690.4 437.4L1689.9 434.1M1608.4 451L1607.2 460.4M1601.4 503.9L1601.1 506.5M1595.4 550L1594 561.6M1588.5 605.1L1587.8 610.9M1582.4 654.4L1581 666.8M1575.6 710.3L1574.9 716M1569.2 759.5L1568.4 765.4M1562.7 808.9L1562.2 812.3M1556.4 855.8L1555.9 859.2" stroke="#FF4040" stroke-width="2" fill="none"/>
<path d="M1976.9 1282.2h28.8v29.6h-28.8zM1967.8 1281.7h28.8v29.6h-28.8zM1958.9 1280.8h28.8v29.6h-28.8zM1949.9 1279.1h28.8v29.6h-28.8zM1941.1 1276.7h28.8v29.6h-28.8zM1932.3 1274.5h28.8v29.6h-28.8zM1923.6 1272.8h28.8v29.6h-28.8zM1914.9 1271.1h28.8v29.6h-28.8zM1906.3 1269.3h28.8v29.6h-28.8zM1897.7 1267.2h28.8v29.6h-28.8zM1889.2 1264.9h28.8v29.6h-28.8zM1880.8 1262.1h28.8v29.6h-28.8zM1872.4 1258.3h28.8v29.6h-28.8zM1864 1254.3h28.8v29.6h-28.8zM1855.8 1251.4h28.8v29.6h-28.8zM1847.5 1248.3h28.8v29.6h-28.8zM1839.4 1243.3h28.8v29.6h-28.8zM1831.2 1236.7h28.8v29.6h-28.8zM1823.2 1227.7h28.8v29.6h-28.8zM1815.2 1216.4h28.8v29.6h-28.8zM1807.2 1203h28.8v29.6h-28.8zM1799.3 1185.4h28.8v29.6h-28.8zM1791.4 1164.6h28.8v29.6h-28.8zM1783.6 1138.6h28.8v29.6h-28.8zM1775.9 1113.7h28.8v29.6h-28.8zM1768.1 1080.6h28.8v29.6h-28.8zM1760.5 1046.1h28.8v29.6h-28.8zM1752.9 1011.2h28.8v29.6h-28.8zM1745.3 969.5h28.8v29.6h-28.8zM1737.8 927.6h28.8v29.6h-28.8zM1730.3 877h28.8v29.6h-28.8zM1722.9 825.4h28.8v29.6h-28.8zM1715.5 763.5h28.8v29.6h-28.8zM1708.2 700.8h28.8v29.6h-28.8zM1700.9 628.9h28.8v29.6h-28.8zM1693.7 568.3h28.8v29.6h-28.8zM1686.5 502.7h28.8v29.6h-28.8zM1679.3 444.4h28.8v29.6h-28.8zM1672.2 397.6h28.8v29.6h-28.8zM1665.1 357h28.8v29.6h-28.8zM1658.1 327.2h28.8v29.6h-28.8zM1651.1 306h28.8v29.6h-28.8zM1644.2 290h28.8v29.6h-28.8zM1637.3 284.6h28.8v29.6h-28.8zM1630.4 284.6h28.8v29.6h-28.8zM1623.6 297.1h28.8v29.6h-28.8zM1616.8 319.5h28.8v29.6h-28.8zM1610.1 344.7h28.8v29.6h-28.8zM1603.4 373.7h28.8v29.6h-28.8zM1596.7 414.4h28.8v29.6h-28.8zM1590.1 467.4h28.8v29.6h-28.8zM1583.6 513.4h28.8v29.6h-28.8zM1577 568.6h28.8v29.6h-28.8zM1570.5 617.9h28.8v29.6h-28.8zM1564.1 673.8h28.8v29.6h-28.8zM1557.6 723h28.8v29.6h-28.8zM1551.2 772.4h28.8v29.6h-28.8zM1544.9 819.3h28.8v29.6h-28.8zM1538.6 866.2h28.8v29.6h-28.8zM1532.3 905h28.8v29.6h-28.8zM1526.1 944.9h28.8v29.6h-28.8zM1519.8 982.9h28.8v29.6h-28.8zM1513.7 1014.7h28.8v29.6h-28.8zM1507.5 1040.8h28.8v29.6h-28.8zM1501.4 1068.4h28.8v29.6h-28.8zM1495.4 1091.2h28.8v29.6h-28.8zM1489.3 1111.9h28.8v29.6h-28.8zM1483.3 1129.8h28.8v29.6h-28.8zM1477.4 1143.7h28.8v29.6h-28.8zM1471.4 1153.7h28.8v29.6h-28.8zM1465.5 1162.4h28.8v29.6h-28.8zM1459.7 1168.7h28.8v29.6h-28.8zM1453.8 1173.1h28.8v29.6h-28.8zM1448 1173.7h28.8v29.6h-28.8zM1442.3 1173.4h28.8v29.6h-28.8zM1436.5 1171.9h28.8v29.6h-28.8zM1430.8 1167.5h28.8v29.6h-28.8zM1425.1 1161.3h28.8v29.6h-28.8zM1419.5 1154.7h28.8v29.6h-28.8zM1413.9 1143.7h28.8v29.6h-28.8zM1408.3 1133h28.8v29.6h-28.8zM1402.7 1121.5h28.8v29.6h-28.8zM1397.2 1106.2h28.8v29.6h-28.8zM1391.7 1088.3h28.8v29.6h-28.8zM1386.2 1070.3h28.8v29.6h-28.8zM1380.8 1051.6h28.8v29.6h-28.8zM1375.4 1032h28.8v29.6h-28.8zM1370 1010.9h28.8v29.6h-28.8zM1364.7 990.3h28.8v29.6h-28.8zM1359.4 966.7h28.8v29.6h-28.8zM1354.1 946.5h28.8v29.6h-28.8zM1348.8 924.4h28.8v29.6h-28.8zM1343.6 904.3h28.8v29.6h-28.8zM1338.3 884.8h28.8v29.6h-28.8zM1333.2 868.5h28.8v29.6h-28.8zM1328 852.7h28.8v29.6h-28.8zM1322.9 840.4h28.8v29.6h-28.8zM1317.8 832.9h28.8v29.6h-28.8zM1312.7 828.6h28.8v29.6h-28.8zM1307.6 829.1h28.8v29.6h-28.8zM1302.6 834h28.8v29.6h-28.8zM1297.6 842h28.8v29.6h-28.8zM1292.6 851.5h28.8v29.6h-28.8zM1287.7 867.2h28.8v29.6h-28.8zM1282.8 887.4h28.8v29.6h-28.8zM1277.9 913.5h28.8v29.6h-28.8zM1273 939.3h28.8v29.6h-28.8zM1268.1 967.5h28.8v29.6h-28.8zM1263.3 993.9h28.8v29.6h-28.8zM1258.5 1022h28.8v29.6h-28.8zM1253.7 1047.1h28.8v29.6h-28.8zM1249 1088.3h28.8v29.6h-28.8zM1244.3 1118.6h28.8v29.6h-28.8zM1239.5 1150.4h28.8v29.6h-28.8zM1234.9 1176.7h28.8v29.6h-28.8zM1230.2 1204.3h28.8v29.6h-28.8zM1225.6 1231.1h28.8v29.6h-28.8zM1221 1256.1h28.8v29.6h-28.8zM1216.4 1279.8h28.8v29.6h-28.8zM1211.8 1298.8h28.8v29.6h-28.8zM1207.2 1310.8h28.8v29.6h-28.8zM1202.7 1323.9h28.8v29.6h-28.8zM1198.2 1340.4h28.8v29.6h-28.8zM1193.7 1354.2h28.8v29.6h-28.8zM1189.3 1366h28.8v29.6h-28.8zM1184.8 1376.2h28.8v29.6h-28.8zM1180.4 1385.4h28.8v29.6h-28.8zM1176 1393.6h28.8v29.6h-28.8zM1171.7 1401.1h28.8v29.6h-28.8zM1167.3 1407.8h28.8v29.6h-28.8zM1163 1413.3h28.8v29.6h-28.8zM1158.7 1416.6h28.8v29.6h-28.8zM1154.4 1419.4h28.8v29.6h-28.8zM1150.1 1423h28.8v29.6h-28.8zM1145.8 1426.2h28.8v29.6h-28.8zM1141.6 1428.2h28.8v29.6h-28.8zM1137.4 1429.8h28.8v29.6h-28.8zM1133.2 1431.2h28.8v29.6h-28.8zM1129 1432.4h28.8v29.6h-28.8zM1124.9 1433.5h28.8v29.6h-28.8zM1120.8 1434.4h28.8v29.6h-28.8zM1116.6 1434.9h28.8v29.6h-28.8zM1112.5 1435.2h28.8v29.6h-28.8zM1108.5 1435.5h28.8v29.6h-28.8zM1104.4 1435.7h28.8v29.6h-28.8zM1100.4 1435.9h28.8v29.6h-28.8zM1096.4 1436.2h28.8v29.6h-28.8zM1092.4 1436.4h28.8v29.6h-28.8zM1088.4 1436.7h28.8v29.6h-28.8zM1084.4 1437h28.8v29.6h-28.8zM1080.5 1437.2h28.8v29.6h-28.8zM1076.5 1437.4h28.8v29.6h-28.8zM1072.6 1437.5h28.8v29.6h-28.8zM1068.7 1437.6h28.8v29.6h-28.8zM1064.9 1437.6h28.8v29.6h-28.8zM1061 1437.6h28.8v29.6h-28.8zM1057.2 1437.5h28.8v29.6h-28.8zM1053.3 1437.4h28.8v29.6h-28.8zM1049.5 1437.3h28.8v29.6h-28.8zM1045.7 1437.1h28.8v29.6h-28.8zM1042 1437h28.8v29.6h-28.8zM1038.2 1436.8h28.8v29.6h-28.8zM1034.5 1436.6h28.8v29.6h-28.8zM1030.7 1436.5h28.8v29.6h-28.8zM1027 1436.3h28.8v29.6h-28.8zM1023.3 1436.2h28.8v29.6h-28.8zM1019.7 1436h28.8v29.6h-28.8zM1016 1435.8h28.8v29.6h-28.8zM1012.4 1435.6h28.8v29.6h-28.8zM1008.7 1435.3h28.8v29.6h-28.8zM1005.1 1435.1h28.8v29.6h-28.8zM1001.5 1434.9h28.8v29.6h-28.8zM998 1434.6h28.8v29.6h-28.8zM994.4 1434.3h28.8v29.6h-28.8zM990.8 1434h28.8v29.6h-28.8zM987.3 1433.8h28.8v29.6h-28.8zM983.8 1433.5h28.8v29.6h-28.8zM980.3 1433.1h28.8v29.6h-28.8zM976.8 1432.8h28.8v29.6h-28.8zM973.3 1432.5h28.8v29.6h-28.8zM969.9 1432.1h28.8v29.6h-28.8zM966.4 1431.8h28.8v29.6h-28.8zM963 1431.3h28.8v29.6h-28.8zM959.6 1430.9h28.8v29.6h-28.8zM956.2 1430.4h28.8v29.6h-28.8zM952.8 1429.9h28.8v29.6h-28.8zM949.4 1429.4h28.8v29.6h-28.8zM946.1 1428.8h28.8v29.6h-28.8zM942.7 1428.3h28.8v29.6h-28.8zM939.4 1427.7h28.8v29.6h-28.8zM936.1 1427.1h28.8v29.6h-28.8zM932.8 1426.5h28.8v29.6h-28.8zM929.5 1425.9h28.8v29.6h-28.8zM926.2 1425.3h28.8v29.6h-28.8zM923 1424.7h28.8v29.6h-28.8zM919.7 1424.1h28.8v29.6h-28.8zM916.5 1423.5h28.8v29.6h-28.8zM913.3 1422.9h28.8v29.6h-28.8zM910 1422.2h28.8v29.6h-28.8zM906.9 1421.6h28.8v29.6h-28.8zM903.7 1420.9h28.8v29.6h-28.8zM900.5 1420.2h28.8v29.6h-28.8zM897.3 1419.5h28.8v29.6h-28.8zM894.2 1418.8h28.8v29.6h-28.8zM891.1 1418.1h28.8v29.6h-28.8zM888 1417.3h28.8v29.6h-28.8zM884.9 1416.6h28.8v29.6h-28.8zM881.8 1415.9h28.8v29.6h-28.8zM878.7 1415.1h28.8v29.6h-28.8zM875.6 1414.4h28.8v29.6h-28.8zM872.6 1413.7h28.8v29.6h-28.8zM869.5 1413h28.8v29.6h-28.8zM866.5 1412.3h28.8v29.6h-28.8zM863.5 1411.6h28.8v29.6h-28.8zM860.5 1411h28.8v29.6h-28.8zM857.5 1410.3h28.8v29.6h-28.8zM854.5 1409.6h28.8v29.6h-28.8zM851.5 1408.9h28.8v29.6h-28.8zM848.5 1408.2h28.8v29.6h-28.8zM845.6 1407.6h28.8v29.6h-28.8zM842.7 1407.1h28.8v29.6h-28.8zM839.7 1406.8h28.8v29.6h-28.8zM836.8 1406.5h28.8v29.6h-28.8zM833.9 1406.2h28.8v29.6h-28.8zM831 1405.9h28.8v29.6h-28.8zM828.2 1405.6h28.8v29.6h-28.8zM825.3 1405.3h28.8v29.6h-28.8zM822.4 1405.1h28.8v29.6h-28.8zM819.6 1404.9h28.8v29.6h-28.8zM816.7 1404.7h28.8v29.6h-28.8zM813.9 1404.6h28.8v29.6h-28.8zM811.1 1404.5h28.8v29.6h-28.8zM808.3 1404.4h28.8v29.6h-28.8zM805.5 1404.3h28.8v29.6h-28.8zM802.7 1404.3h28.8v29.6h-28.8zM800 1404.3h28.8v29.6h-28.8zM797.2 1404.4h28.8v29.6h-28.8zM794.4 1404.4h28.8v29.6h-28.8zM791.7 1404.5h28.8v29.6h-28.8zM789 1404.6h28.8v29.6h-28.8zM786.3 1404.8h28.8v29.6h-28.8zM783.6 1404.9h28.8v29.6h-28.8zM780.9 1405.1h28.8v29.6h-28.8zM778.2 1405.3h28.8v29.6h-28.8zM775.5 1405.5h28.8v29.6h-28.8zM772.8 1405.7h28.8v29.6h-28.8zM770.2 1405.8h28.8v29.6h-28.8zM767.5 1406.1h28.8v29.6h-28.8zM764.9 1406.3h28.8v29.6h-28.8zM762.2 1406.5h28.8v29.6h-28.8zM759.6 1406.8h28.8v29.6h-28.8zM757 1407.2h28.8v29.6h-28.8zM754.4 1407.5h28.8v29.6h-28.8zM751.8 1408h28.8v29.6h-28.8zM749.3 1408.4h28.8v29.6h-28.8zM746.7 1408.9h28.8v29.6h-28.8zM744.1 1409.5h28.8v29.6h-28.8zM741.6 1410h28.8v29.6h-28.8zM739 1410.5h28.8v29.6h-28.8zM736.5 1411.1h28.8v29.6h-28.8zM734 1411.7h28.8v29.6h-28.8zM731.4 1412.3h28.8v29.6h-28.8zM728.9 1412.8h28.8v29.6h-28.8zM726.4 1413.4h28.8v29.6h-28.8zM724 1414h28.8v29.6h-28.8zM721.5 1414.5h28.8v29.6h-28.8zM719 1415.1h28.8v29.6h-28.8zM716.5 1415.6h28.8v29.6h-28.8zM714.1 1416.1h28.8v29.6h-28.8zM711.7 1416.6h28.8v29.6h-28.8zM709.2 1417.1h28.8v29.6h-28.8zM706.8 1417.6h28.8v29.6h-28.8zM704.4 1418.1h28.8v29.6h-28.8zM702 1418.6h28.8v29.6h-28.8zM699.6 1419.2h28.8v29.6h-28.8zM697.2 1419.8h28.8v29.6h-28.8zM694.8 1420.3h28.8v29.6h-28.8zM692.4 1420.7h28.8v29.6h-28.8zM690 1421.1h28.8v29.6h-28.8zM687.7 1421.4h28.8v29.6h-28.8zM685.3 1421.8h28.8v29.6h-28.8zM683 1422.1h28.8v29.6h-28.8zM680.7 1422.5h28.8v29.6h-28.8zM678.3 1422.9h28.8v29.6h-28.8zM676 1423.2h28.8v29.6h-28.8zM673.7 1423.6h28.8v29.6h-28.8zM671.4 1423.9h28.8v29.6h-28.8zM669.1 1424.2h28.8v29.6h-28.8zM666.8 1424.4h28.8v29.6h-28.8zM664.6 1424.7h28.8v29.6h-28.8zM662.3 1424.9h28.8v29.6h-28.8zM660 1425.1h28.8v29.6h-28.8zM657.8 1425.3h28.8v29.6h-28.8zM655.5 1425.4h28.8v29.6h-28.8zM653.3 1425.6h28.8v29.6h-28.8zM651.1 1425.7h28.8v29.6h-28.8zM648.8 1425.9h28.8v29.6h-28.8zM646.6 1426h28.8v29.6h-28.8zM644.4 1426.1h28.8v29.6h-28.8zM642.2 1426.2h28.8v29.6h-28.8zM640 1426.3h28.8v29.6h-28.8zM637.8 1426.3h28.8v29.6h-28.8zM635.6 1426.4h28.8v29.6h-28.8zM633.5 1426.5h28.8v29.6h-28.8zM631.3 1426.6h28.8v29.6h-28.8zM629.2 1426.6h28.8v29.6h-28.8zM627 1426.7h28.8v29.6h-28.8zM624.9 1426.8h28.8v29.6h-28.8zM622.7 1426.8h28.8v29.6h-28.8zM620.6 1426.9h28.8v29.6h-28.8zM618.5 1426.9h28.8v29.6h-28.8zM616.4 1427h28.8v29.6h-28.8zM614.3 1427h28.8v29.6h-28.8zM612.2 1427.1h28.8v29.6h-28.8zM610.1 1427.1h28.8v29.6h-28.8zM608 1427.1h28.8v29.6h-28.8zM605.9 1427.1h28.8v29.6h-28.8zM603.8 1427.1h28.8v29.6h-28.8zM601.8 1427.1h28.8v29.6h-28.8zM599.7 1427.1h28.8v29.6h-28.8zM597.7 1427.1h28.8v29.6h-28.8zM595.6 1427.1h28.8v29.6h-28.8zM593.6 1427.1h28.8v29.6h-28.8zM591.5 1427h28.8v29.6h-28.8zM589.5 1427h28.8v29.6h-28.8zM587.5 1427h28.8v29.6h-28.8zM585.5 1427h28.8v29.6h-28.8zM583.5 1427h28.8v29.6h-28.8zM581.5 1427h28.8v29.6h-28.8zM579.5 1426.9h28.8v29.6h-28.8zM577.5 1426.9h28.8v29.6h-28.8zM575.5 1426.9h28.8v29.6h-28.8zM573.6 1426.9h28.8v29.6h-28.8zM571.6 1426.9h28.8v29.6h-28.8zM569.6 1426.8h28.8v29.6h-28.8zM567.7 1426.8h28.8v29.6h-28.8zM565.7 1426.8h28.8v29.6h-28.8zM563.8 1426.8h28.8v29.6h-28.8zM561.8 1426.7h28.8v29.6h-28.8zM559.9 1426.7h28.8v29.6h-28.8zM558 1426.7h28.8v29.6h-28.8zM556.1 1426.6h28.8v29.6h-28.8zM554.2 1426.6h28.8v29.6h-28.8zM552.3 1426.6h28.8v29.6h-28.8zM550.4 1426.5h28.8v29.6h-28.8zM548.5 1426.5h28.8v29.6h-28.8zM546.6 1426.4h28.8v29.6h-28.8zM544.7 1426.4h28.8v29.6h-28.8zM542.8 1426.3h28.8v29.6h-28.8zM541 1426.3h28.8v29.6h-28.8zM539.1 1426.2h28.8v29.6h-28.8zM537.2 1426.2h28.8v29.6h-28.8zM535.4 1426.1h28.8v29.6h-28.8zM533.5 1426h28.8v29.6h-28.8zM531.7 1426h28.8v29.6h-28.8zM529.9 1425.9h28.8v29.6h-28.8zM528 1425.8h28.8v29.6h-28.8zM526.2 1425.8h28.8v29.6h-28.8zM524.4 1425.7h28.8v29.6h-28.8zM522.6 1425.6h28.8v29.6h-28.8zM520.8 1425.6h28.8v29.6h-28.8zM519 1425.5h28.8v29.6h-28.8zM517.2 1425.4h28.8v29.6h-28.8zM515.4 1425.3h28.8v29.6h-28.8zM513.6 1425.2h28.8v29.6h-28.8zM511.8 1425.2h28.8v29.6h-28.8zM510 1425.1h28.8v29.6h-28.8zM508.3 1425h28.8v29.6h-28.8zM506.5 1424.9h28.8v29.6h-28.8zM504.8 1424.8h28.8v29.6h-28.8zM503 1424.7h28.8v29.6h-28.8zM501.3 1424.6h28.8v29.6h-28.8zM499.5 1424.5h28.8v29.6h-28.8zM497.8 1424.5h28.8v29.6h-28.8zM496 1424.4h28.8v29.6h-28.8zM494.3 1424.3h28.8v29.6h-28.8zM492.6 1424.2h28.8v29.6h-28.8zM490.9 1424.1h28.8v29.6h-28.8zM489.2 1424h28.8v29.6h-28.8zM487.5 1423.9h28.8v29.6h-28.8zM485.8 1423.8h28.8v29.6h-28.8zM484.1 1423.6h28.8v29.6h-28.8zM482.4 1423.5h28.8v29.6h-28.8zM480.7 1423.4h28.8v29.6h-28.8zM479 1423.3h28.8v29.6h-28.8zM477.3 1423.2h28.8v29.6h-28.8zM475.7 1423.1h28.8v29.6h-28.8zM474 1423h28.8v29.6h-28.8zM472.3 1422.9h28.8v29.6h-28.8zM470.7 1422.8h28.8v29.6h-28.8zM469 1422.7h28.8v29.6h-28.8zM467.4 1422.5h28.8v29.6h-28.8zM465.8 1422.4h28.8v29.6h-28.8zM464.1 1422.3h28.8v29.6h-28.8zM462.5 1422.2h28.8v29.6h-28.8zM460.9 1422.1h28.8v29.6h-28.8zM459.2 1421.9h28.8v29.6h-28.8zM457.6 1421.8h28.8v29.6h-28.8zM456 1421.7h28.8v29.6h-28.8zM454.4 1421.6h28.8v29.6h-28.8zM452.8 1421.5h28.8v29.6h-28.8zM451.2 1421.3h28.8v29.6h-28.8zM449.6 1421.2h28.8v29.6h-28.8zM448 1421.1h28.8v29.6h-28.8zM446.4 1421h28.8v29.6h-28.8zM444.8 1420.8h28.8v29.6h-28.8zM443.3 1420.7h28.8v29.6h-28.8zM441.7 1420.6h28.8v29.6h-28.8zM440.1 1420.4h28.8v29.6h-28.8zM438.6 1420.3h28.8v29.6h-28.8zM437 1420.2h28.8v29.6h-28.8z" fill="#FF4040" shape-rendering="crispEdges"/>

<g fill="#fff" stroke="#0000FF" stroke-width="2.8" shape-rendering="crispEdges"><rect x="1978.3" y="1327.1" width="26" height="26.8"/><rect x="1969.2" y="1326.9" width="26" height="26.8"/><rect x="1960.3" y="1326.7" width="26" height="26.8"/><rect x="1951.3" y="1326.5" width="26" height="26.8"/><rect x="1942.5" y="1326.3" width="26" height="26.8"/><rect x="1933.7" y="1326" width="26" height="26.8"/><rect x="1925" y="1325.8" width="26" height="26.8"/><rect x="1916.3" y="1325.5" width="26" height="26.8"/><rect x="1907.7" y="1325.1" width="26" height="26.8"/><rect x="1899.1" y="1324.7" width="26" height="26.8"/><rect x="1890.6" y="1323.5" width="26" height="26.8"/><rect x="1882.2" y="1322.6" width="26" height="26.8"/><rect x="1873.8" y="1321.7" width="26" height="26.8"/><rect x="1865.4" y="1320.9" width="26" height="26.8"/><rect x="1857.2" y="1320.8" width="26" height="26.8"/><rect x="1848.9" y="1319.5" width="26" height="26.8"/><rect x="1840.8" y="1318.7" width="26" height="26.8"/><rect x="1832.6" y="1317.7" width="26" height="26.8"/><rect x="1824.6" y="1315.2" width="26" height="26.8"/><rect x="1816.6" y="1312.7" width="26" height="26.8"/><rect x="1808.6" y="1310.2" width="26" height="26.8"/><rect x="1800.7" y="1306.3" width="26" height="26.8"/><rect x="1792.8" y="1300.9" width="26" height="26.8"/><rect x="1785" y="1294.1" width="26" height="26.8"/><rect x="1777.3" y="1287.3" width="26" height="26.8"/><rect x="1769.5" y="1280.2" width="26" height="26.8"/><rect x="1761.9" y="1272.2" width="26" height="26.8"/><rect x="1754.3" y="1263.2" width="26" height="26.8"/><rect x="1746.7" y="1254.9" width="26" height="26.8"/><rect x="1739.2" y="1245.3" width="26" height="26.8"/><rect x="1731.7" y="1234.7" width="26" height="26.8"/><rect x="1724.3" y="1221.9" width="26" height="26.8"/><rect x="1716.9" y="1209.8" width="26" height="26.8"/><rect x="1709.6" y="1200.3" width="26" height="26.8"/><rect x="1702.3" y="1188.9" width="26" height="26.8"/><rect x="1695.1" y="1180.7" width="26" height="26.8"/><rect x="1687.9" y="1172.6" width="26" height="26.8"/><rect x="1680.7" y="1166.2" width="26" height="26.8"/><rect x="1673.6" y="1160.8" width="26" height="26.8"/><rect x="1666.5" y="1157.7" width="26" height="26.8"/><rect x="1659.5" y="1156.5" width="26" height="26.8"/><rect x="1652.5" y="1157.5" width="26" height="26.8"/><rect x="1645.6" y="1158.7" width="26" height="26.8"/><rect x="1638.7" y="1161.9" width="26" height="26.8"/><rect x="1631.8" y="1164.7" width="26" height="26.8"/><rect x="1625" y="1169.6" width="26" height="26.8"/><rect x="1618.2" y="1175.4" width="26" height="26.8"/><rect x="1611.5" y="1181.4" width="26" height="26.8"/><rect x="1604.8" y="1187.1" width="26" height="26.8"/><rect x="1598.1" y="1193.9" width="26" height="26.8"/><rect x="1591.5" y="1201.5" width="26" height="26.8"/><rect x="1585" y="1208.1" width="26" height="26.8"/><rect x="1578.4" y="1216.5" width="26" height="26.8"/><rect x="1571.9" y="1223.8" width="26" height="26.8"/><rect x="1565.5" y="1231.2" width="26" height="26.8"/><rect x="1559" y="1238.8" width="26" height="26.8"/><rect x="1552.6" y="1246.2" width="26" height="26.8"/><rect x="1546.3" y="1252.5" width="26" height="26.8"/><rect x="1540" y="1261" width="26" height="26.8"/><rect x="1533.7" y="1266.9" width="26" height="26.8"/><rect x="1527.5" y="1274.4" width="26" height="26.8"/><rect x="1521.2" y="1280.5" width="26" height="26.8"/><rect x="1515.1" y="1287" width="26" height="26.8"/><rect x="1508.9" y="1291.8" width="26" height="26.8"/><rect x="1502.8" y="1298.2" width="26" height="26.8"/><rect x="1496.8" y="1303.9" width="26" height="26.8"/><rect x="1490.7" y="1309.2" width="26" height="26.8"/><rect x="1484.7" y="1313.9" width="26" height="26.8"/><rect x="1478.8" y="1318.9" width="26" height="26.8"/><rect x="1472.8" y="1323.9" width="26" height="26.8"/><rect x="1466.9" y="1328.4" width="26" height="26.8"/><rect x="1461.1" y="1333.3" width="26" height="26.8"/><rect x="1455.2" y="1337.3" width="26" height="26.8"/><rect x="1449.4" y="1341.9" width="26" height="26.8"/><rect x="1443.7" y="1345.4" width="26" height="26.8"/><rect x="1437.9" y="1348.8" width="26" height="26.8"/><rect x="1432.2" y="1352.2" width="26" height="26.8"/><rect x="1426.5" y="1355.5" width="26" height="26.8"/><rect x="1420.9" y="1358.7" width="26" height="26.8"/><rect x="1415.3" y="1361.7" width="26" height="26.8"/><rect x="1409.7" y="1364.5" width="26" height="26.8"/><rect x="1404.1" y="1367" width="26" height="26.8"/><rect x="1398.6" y="1369.3" width="26" height="26.8"/><rect x="1393.1" y="1371.3" width="26" height="26.8"/><rect x="1387.6" y="1373" width="26" height="26.8"/><rect x="1382.2" y="1374.4" width="26" height="26.8"/><rect x="1376.8" y="1375.4" width="26" height="26.8"/><rect x="1371.4" y="1376" width="26" height="26.8"/><rect x="1366.1" y="1376.2" width="26" height="26.8"/><rect x="1360.8" y="1376.1" width="26" height="26.8"/><rect x="1355.5" y="1375.8" width="26" height="26.8"/><rect x="1350.2" y="1375.4" width="26" height="26.8"/><rect x="1345" y="1374.2" width="26" height="26.8"/><rect x="1339.7" y="1372.7" width="26" height="26.8"/><rect x="1334.6" y="1371.3" width="26" height="26.8"/><rect x="1329.4" y="1369.4" width="26" height="26.8"/><rect x="1324.3" y="1367.1" width="26" height="26.8"/><rect x="1319.2" y="1365" width="26" height="26.8"/><rect x="1314.1" y="1362" width="26" height="26.8"/><rect x="1309" y="1359.5" width="26" height="26.8"/><rect x="1304" y="1357.3" width="26" height="26.8"/><rect x="1299" y="1354.2" width="26" height="26.8"/><rect x="1294" y="1350.9" width="26" height="26.8"/><rect x="1289.1" y="1348.2" width="26" height="26.8"/><rect x="1284.2" y="1344.7" width="26" height="26.8"/><rect x="1279.3" y="1341.8" width="26" height="26.8"/><rect x="1274.4" y="1338.2" width="26" height="26.8"/><rect x="1269.5" y="1333.6" width="26" height="26.8"/><rect x="1264.7" y="1330.6" width="26" height="26.8"/><rect x="1259.9" y="1326.5" width="26" height="26.8"/><rect x="1255.1" y="1321.4" width="26" height="26.8"/><rect x="1250.4" y="1316.7" width="26" height="26.8"/><rect x="1245.7" y="1312" width="26" height="26.8"/><rect x="1240.9" y="1307.9" width="26" height="26.8"/><rect x="1236.3" y="1303.3" width="26" height="26.8"/><rect x="1231.6" y="1297.1" width="26" height="26.8"/><rect x="1227" y="1291.8" width="26" height="26.8"/><rect x="1222.4" y="1285.2" width="26" height="26.8"/><rect x="1217.8" y="1278.6" width="26" height="26.8"/><rect x="1213.2" y="1272.1" width="26" height="26.8"/><rect x="1208.6" y="1263.9" width="26" height="26.8"/><rect x="1204.1" y="1257.5" width="26" height="26.8"/><rect x="1199.6" y="1250.4" width="26" height="26.8"/><rect x="1195.1" y="1241.4" width="26" height="26.8"/><rect x="1190.7" y="1231.9" width="26" height="26.8"/><rect x="1186.2" y="1221.6" width="26" height="26.8"/><rect x="1181.8" y="1212.7" width="26" height="26.8"/><rect x="1177.4" y="1200.8" width="26" height="26.8"/><rect x="1173.1" y="1190" width="26" height="26.8"/><rect x="1168.7" y="1179.5" width="26" height="26.8"/><rect x="1164.4" y="1169.8" width="26" height="26.8"/><rect x="1160.1" y="1158.2" width="26" height="26.8"/><rect x="1155.8" y="1145.6" width="26" height="26.8"/><rect x="1151.5" y="1132.1" width="26" height="26.8"/><rect x="1147.2" y="1118.2" width="26" height="26.8"/><rect x="1143" y="1104.1" width="26" height="26.8"/><rect x="1138.8" y="1090" width="26" height="26.8"/><rect x="1134.6" y="1075.2" width="26" height="26.8"/><rect x="1130.4" y="1060" width="26" height="26.8"/><rect x="1126.3" y="1044.8" width="26" height="26.8"/><rect x="1122.2" y="1029.8" width="26" height="26.8"/><rect x="1118" y="1015.5" width="26" height="26.8"/><rect x="1113.9" y="1002" width="26" height="26.8"/><rect x="1109.9" y="988.8" width="26" height="26.8"/><rect x="1105.8" y="975.4" width="26" height="26.8"/><rect x="1101.8" y="961.4" width="26" height="26.8"/><rect x="1097.8" y="946.4" width="26" height="26.8"/><rect x="1093.8" y="930.2" width="26" height="26.8"/><rect x="1089.8" y="913.9" width="26" height="26.8"/><rect x="1085.8" y="896.9" width="26" height="26.8"/><rect x="1081.9" y="880.6" width="26" height="26.8"/><rect x="1077.9" y="862.9" width="26" height="26.8"/><rect x="1074" y="846.4" width="26" height="26.8"/><rect x="1070.1" y="825.9" width="26" height="26.8"/><rect x="1066.3" y="809.2" width="26" height="26.8"/><rect x="1062.4" y="793.1" width="26" height="26.8"/><rect x="1058.6" y="775.7" width="26" height="26.8"/><rect x="1054.7" y="758.3" width="26" height="26.8"/><rect x="1050.9" y="740.7" width="26" height="26.8"/><rect x="1047.1" y="723" width="26" height="26.8"/><rect x="1043.4" y="705.4" width="26" height="26.8"/><rect x="1039.6" y="687.8" width="26" height="26.8"/><rect x="1035.9" y="670.3" width="26" height="26.8"/><rect x="1032.1" y="653" width="26" height="26.8"/><rect x="1028.4" y="635.8" width="26" height="26.8"/><rect x="1024.7" y="618.8" width="26" height="26.8"/><rect x="1021.1" y="602.1" width="26" height="26.8"/><rect x="1017.4" y="585.7" width="26" height="26.8"/><rect x="1013.8" y="569.8" width="26" height="26.8"/><rect x="1010.1" y="551.2" width="26" height="26.8"/><rect x="1006.5" y="537.5" width="26" height="26.8"/><rect x="1002.9" y="522.4" width="26" height="26.8"/><rect x="999.4" y="506.1" width="26" height="26.8"/><rect x="995.8" y="493.2" width="26" height="26.8"/><rect x="992.2" y="477.7" width="26" height="26.8"/><rect x="988.7" y="465.2" width="26" height="26.8"/><rect x="985.2" y="449.5" width="26" height="26.8"/><rect x="981.7" y="439.6" width="26" height="26.8"/><rect x="978.2" y="424.6" width="26" height="26.8"/><rect x="974.7" y="411.7" width="26" height="26.8"/><rect x="971.3" y="401.4" width="26" height="26.8"/><rect x="967.8" y="392.1" width="26" height="26.8"/><rect x="964.4" y="383" width="26" height="26.8"/><rect x="961" y="372.8" width="26" height="26.8"/><rect x="957.6" y="364.6" width="26" height="26.8"/><rect x="954.2" y="358.8" width="26" height="26.8"/><rect x="950.8" y="351.1" width="26" height="26.8"/><rect x="947.5" y="345.6" width="26" height="26.8"/><rect x="944.1" y="342.1" width="26" height="26.8"/><rect x="940.8" y="338" width="26" height="26.8"/><rect x="937.5" y="336.2" width="26" height="26.8"/><rect x="934.2" y="334.9" width="26" height="26.8"/><rect x="930.9" y="334.3" width="26" height="26.8"/><rect x="927.6" y="335.4" width="26" height="26.8"/><rect x="924.4" y="337.6" width="26" height="26.8"/><rect x="921.1" y="341" width="26" height="26.8"/><rect x="917.9" y="344.1" width="26" height="26.8"/><rect x="914.7" y="349.3" width="26" height="26.8"/><rect x="911.4" y="356.7" width="26" height="26.8"/><rect x="908.3" y="364.2" width="26" height="26.8"/><rect x="905.1" y="373.6" width="26" height="26.8"/><rect x="901.9" y="380.6" width="26" height="26.8"/><rect x="898.7" y="391.6" width="26" height="26.8"/><rect x="895.6" y="403.9" width="26" height="26.8"/><rect x="892.5" y="417.2" width="26" height="26.8"/><rect x="889.4" y="431.5" width="26" height="26.8"/><rect x="886.3" y="446.2" width="26" height="26.8"/><rect x="883.2" y="462.5" width="26" height="26.8"/><rect x="880.1" y="483.3" width="26" height="26.8"/><rect x="877" y="503.5" width="26" height="26.8"/><rect x="874" y="522.6" width="26" height="26.8"/><rect x="870.9" y="540.3" width="26" height="26.8"/><rect x="867.9" y="559.7" width="26" height="26.8"/><rect x="864.9" y="581.2" width="26" height="26.8"/><rect x="861.9" y="601.5" width="26" height="26.8"/><rect x="858.9" y="619.8" width="26" height="26.8"/><rect x="855.9" y="640.2" width="26" height="26.8"/><rect x="852.9" y="663.7" width="26" height="26.8"/><rect x="849.9" y="686.3" width="26" height="26.8"/><rect x="847" y="708.4" width="26" height="26.8"/><rect x="844.1" y="732" width="26" height="26.8"/><rect x="841.1" y="755.2" width="26" height="26.8"/><rect x="838.2" y="778.3" width="26" height="26.8"/><rect x="835.3" y="800.7" width="26" height="26.8"/><rect x="832.4" y="825" width="26" height="26.8"/><rect x="829.6" y="850.4" width="26" height="26.8"/><rect x="826.7" y="875.9" width="26" height="26.8"/><rect x="823.8" y="900.6" width="26" height="26.8"/><rect x="821" y="923.5" width="26" height="26.8"/><rect x="818.1" y="944.1" width="26" height="26.8"/><rect x="815.3" y="965.2" width="26" height="26.8"/><rect x="812.5" y="987.9" width="26" height="26.8"/><rect x="809.7" y="1007.1" width="26" height="26.8"/><rect x="806.9" y="1029.6" width="26" height="26.8"/><rect x="804.1" y="1046.3" width="26" height="26.8"/><rect x="801.4" y="1072.2" width="26" height="26.8"/><rect x="798.6" y="1088.8" width="26" height="26.8"/><rect x="795.8" y="1106" width="26" height="26.8"/><rect x="793.1" y="1129.4" width="26" height="26.8"/><rect x="790.4" y="1145.7" width="26" height="26.8"/><rect x="787.7" y="1160.3" width="26" height="26.8"/><rect x="785" y="1179.4" width="26" height="26.8"/><rect x="782.3" y="1195.7" width="26" height="26.8"/><rect x="779.6" y="1209.5" width="26" height="26.8"/><rect x="776.9" y="1222.9" width="26" height="26.8"/><rect x="774.2" y="1236.9" width="26" height="26.8"/><rect x="771.6" y="1249.2" width="26" height="26.8"/><rect x="768.9" y="1264.8" width="26" height="26.8"/><rect x="766.3" y="1275.6" width="26" height="26.8"/><rect x="763.6" y="1285.4" width="26" height="26.8"/><rect x="761" y="1299.4" width="26" height="26.8"/><rect x="758.4" y="1309.1" width="26" height="26.8"/><rect x="755.8" y="1317" width="26" height="26.8"/><rect x="753.2" y="1329.1" width="26" height="26.8"/><rect x="750.7" y="1336.5" width="26" height="26.8"/><rect x="748.1" y="1345.6" width="26" height="26.8"/><rect x="745.5" y="1354.4" width="26" height="26.8"/><rect x="743" y="1362.7" width="26" height="26.8"/><rect x="740.4" y="1368.3" width="26" height="26.8"/><rect x="737.9" y="1376.2" width="26" height="26.8"/><rect x="735.4" y="1381.9" width="26" height="26.8"/><rect x="732.8" y="1387.8" width="26" height="26.8"/><rect x="730.3" y="1393.2" width="26" height="26.8"/><rect x="727.8" y="1396.1" width="26" height="26.8"/><rect x="725.4" y="1398.9" width="26" height="26.8"/><rect x="722.9" y="1403.5" width="26" height="26.8"/><rect x="720.4" y="1408.3" width="26" height="26.8"/><rect x="717.9" y="1412.2" width="26" height="26.8"/><rect x="715.5" y="1416.3" width="26" height="26.8"/><rect x="713.1" y="1421.4" width="26" height="26.8"/><rect x="710.6" y="1425.1" width="26" height="26.8"/><rect x="708.2" y="1427.4" width="26" height="26.8"/><rect x="705.8" y="1430" width="26" height="26.8"/><rect x="703.4" y="1433.1" width="26" height="26.8"/><rect x="701" y="1435.5" width="26" height="26.8"/><rect x="698.6" y="1437.2" width="26" height="26.8"/><rect x="696.2" y="1438.9" width="26" height="26.8"/><rect x="693.8" y="1441" width="26" height="26.8"/><rect x="691.4" y="1443.1" width="26" height="26.8"/><rect x="689.1" y="1444.9" width="26" height="26.8"/><rect x="686.7" y="1446.2" width="26" height="26.8"/><rect x="684.4" y="1447.3" width="26" height="26.8"/><rect x="682.1" y="1448.3" width="26" height="26.8"/><rect x="679.7" y="1449.1" width="26" height="26.8"/><rect x="677.4" y="1449.8" width="26" height="26.8"/><rect x="675.1" y="1450.7" width="26" height="26.8"/><rect x="672.8" y="1451.9" width="26" height="26.8"/><rect x="670.5" y="1453.2" width="26" height="26.8"/><rect x="668.2" y="1454.1" width="26" height="26.8"/><rect x="666" y="1454.7" width="26" height="26.8"/><rect x="663.7" y="1455.2" width="26" height="26.8"/><rect x="661.4" y="1455.6" width="26" height="26.8"/><rect x="659.2" y="1456" width="26" height="26.8"/><rect x="656.9" y="1456.3" width="26" height="26.8"/><rect x="654.7" y="1456.7" width="26" height="26.8"/><rect x="652.5" y="1457" width="26" height="26.8"/><rect x="650.2" y="1457.2" width="26" height="26.8"/><rect x="648" y="1457.3" width="26" height="26.8"/><rect x="645.8" y="1457.1" width="26" height="26.8"/><rect x="643.6" y="1456.8" width="26" height="26.8"/><rect x="641.4" y="1456.5" width="26" height="26.8"/><rect x="639.2" y="1456.4" width="26" height="26.8"/><rect x="637" y="1456.4" width="26" height="26.8"/><rect x="634.9" y="1456.4" width="26" height="26.8"/><rect x="632.7" y="1456.4" width="26" height="26.8"/><rect x="630.6" y="1456.5" width="26" height="26.8"/><rect x="628.4" y="1456.5" width="26" height="26.8"/><rect x="626.3" y="1456.5" width="26" height="26.8"/><rect x="624.1" y="1456.5" width="26" height="26.8"/><rect x="622" y="1456.6" width="26" height="26.8"/><rect x="619.9" y="1456.6" width="26" height="26.8"/><rect x="617.8" y="1456.7" width="26" height="26.8"/><rect x="615.7" y="1456.7" width="26" height="26.8"/><rect x="613.6" y="1456.8" width="26" height="26.8"/><rect x="611.5" y="1456.8" width="26" height="26.8"/><rect x="609.4" y="1456.9" width="26" height="26.8"/><rect x="607.3" y="1456.9" width="26" height="26.8"/><rect x="605.2" y="1457" width="26" height="26.8"/><rect x="603.2" y="1457" width="26" height="26.8"/><rect x="601.1" y="1457.1" width="26" height="26.8"/><rect x="599.1" y="1457.1" width="26" height="26.8"/><rect x="597" y="1457.2" width="26" height="26.8"/><rect x="595" y="1457.2" width="26" height="26.8"/><rect x="592.9" y="1457.3" width="26" height="26.8"/><rect x="590.9" y="1457.3" width="26" height="26.8"/><rect x="588.9" y="1457.4" width="26" height="26.8"/><rect x="586.9" y="1457.4" width="26" height="26.8"/><rect x="584.9" y="1457.4" width="26" height="26.8"/><rect x="582.9" y="1457.5" width="26" height="26.8"/><rect x="580.9" y="1457.5" width="26" height="26.8"/><rect x="578.9" y="1457.5" width="26" height="26.8"/><rect x="576.9" y="1457.5" width="26" height="26.8"/><rect x="575" y="1457.6" width="26" height="26.8"/><rect x="573" y="1457.6" width="26" height="26.8"/><rect x="571" y="1457.6" width="26" height="26.8"/><rect x="569.1" y="1457.6" width="26" height="26.8"/><rect x="567.1" y="1457.6" width="26" height="26.8"/><rect x="565.2" y="1457.6" width="26" height="26.8"/><rect x="563.2" y="1457.6" width="26" height="26.8"/><rect x="561.3" y="1457.6" width="26" height="26.8"/><rect x="559.4" y="1457.6" width="26" height="26.8"/><rect x="557.5" y="1457.6" width="26" height="26.8"/><rect x="555.6" y="1457.6" width="26" height="26.8"/><rect x="553.7" y="1457.6" width="26" height="26.8"/><rect x="551.8" y="1457.6" width="26" height="26.8"/><rect x="549.9" y="1457.5" width="26" height="26.8"/><rect x="548" y="1457.5" width="26" height="26.8"/><rect x="546.1" y="1457.5" width="26" height="26.8"/><rect x="544.2" y="1457.5" width="26" height="26.8"/><rect x="542.4" y="1457.5" width="26" height="26.8"/><rect x="540.5" y="1457.5" width="26" height="26.8"/><rect x="538.6" y="1457.4" width="26" height="26.8"/><rect x="536.8" y="1457.4" width="26" height="26.8"/><rect x="534.9" y="1457.4" width="26" height="26.8"/><rect x="533.1" y="1457.4" width="26" height="26.8"/><rect x="531.3" y="1457.4" width="26" height="26.8"/><rect x="529.4" y="1457.3" width="26" height="26.8"/><rect x="527.6" y="1457.3" width="26" height="26.8"/><rect x="525.8" y="1457.3" width="26" height="26.8"/><rect x="524" y="1457.3" width="26" height="26.8"/><rect x="522.2" y="1457.2" width="26" height="26.8"/><rect x="520.4" y="1457.2" width="26" height="26.8"/><rect x="518.6" y="1457.2" width="26" height="26.8"/><rect x="516.8" y="1457.1" width="26" height="26.8"/><rect x="515" y="1457.1" width="26" height="26.8"/><rect x="513.2" y="1457.1" width="26" height="26.8"/><rect x="511.4" y="1457" width="26" height="26.8"/><rect x="509.7" y="1457" width="26" height="26.8"/><rect x="507.9" y="1457" width="26" height="26.8"/><rect x="506.2" y="1456.9" width="26" height="26.8"/><rect x="504.4" y="1456.9" width="26" height="26.8"/><rect x="502.7" y="1456.8" width="26" height="26.8"/><rect x="500.9" y="1456.8" width="26" height="26.8"/><rect x="499.2" y="1456.7" width="26" height="26.8"/><rect x="497.4" y="1456.7" width="26" height="26.8"/><rect x="495.7" y="1456.7" width="26" height="26.8"/><rect x="494" y="1456.6" width="26" height="26.8"/><rect x="492.3" y="1456.6" width="26" height="26.8"/><rect x="490.6" y="1456.5" width="26" height="26.8"/><rect x="488.9" y="1456.5" width="26" height="26.8"/><rect x="487.2" y="1456.4" width="26" height="26.8"/><rect x="485.5" y="1456.4" width="26" height="26.8"/><rect x="483.8" y="1456.3" width="26" height="26.8"/><rect x="482.1" y="1456.3" width="26" height="26.8"/><rect x="480.4" y="1456.2" width="26" height="26.8"/><rect x="478.7" y="1456.1" width="26" height="26.8"/><rect x="477.1" y="1456.1" width="26" height="26.8"/><rect x="475.4" y="1456" width="26" height="26.8"/><rect x="473.7" y="1456" width="26" height="26.8"/><rect x="472.1" y="1455.9" width="26" height="26.8"/><rect x="470.4" y="1455.8" width="26" height="26.8"/><rect x="468.8" y="1455.8" width="26" height="26.8"/><rect x="467.2" y="1455.7" width="26" height="26.8"/><rect x="465.5" y="1455.7" width="26" height="26.8"/><rect x="463.9" y="1455.6" width="26" height="26.8"/><rect x="462.3" y="1455.5" width="26" height="26.8"/><rect x="460.6" y="1455.5" width="26" height="26.8"/><rect x="459" y="1455.4" width="26" height="26.8"/><rect x="457.4" y="1455.3" width="26" height="26.8"/><rect x="455.8" y="1455.3" width="26" height="26.8"/><rect x="454.2" y="1455.2" width="26" height="26.8"/><rect x="452.6" y="1455.1" width="26" height="26.8"/><rect x="451" y="1455.1" width="26" height="26.8"/><rect x="449.4" y="1455" width="26" height="26.8"/><rect x="447.8" y="1454.9" width="26" height="26.8"/><rect x="446.2" y="1454.8" width="26" height="26.8"/><rect x="444.7" y="1454.8" width="26" height="26.8"/><rect x="443.1" y="1454.7" width="26" height="26.8"/><rect x="441.5" y="1454.6" width="26" height="26.8"/><rect x="440" y="1454.5" width="26" height="26.8"/><rect x="438.4" y="1454.4" width="26" height="26.8"/></g>
<path d="M288 1500.1h11v6.6h-11zM288 1480.9h11v6.6h-11zM288 1461.7h26v6.6h-26zM288 1442.6h11v6.6h-11zM288 1423.4h11v6.6h-11zM288 1404.2h11v6.6h-11zM288 1385h11v6.6h-11zM288 1365.8h11v6.6h-11zM288 1346.7h11v6.6h-11zM288 1327.5h11v6.6h-11zM288 1308.3h11v6.6h-11zM288 1289.1h11v6.6h-11zM288 1269.9h26v6.6h-26zM288 1250.8h11v6.6h-11zM288 1231.6h11v6.6h-11zM288 1212.4h11v6.6h-11zM288 1193.2h11v6.6h-11zM288 1174h11v6.6h-11zM288 1154.9h11v6.6h-11zM288 1135.7h11v6.6h-11zM288 1116.5h11v6.6h-11zM288 1097.3h11v6.6h-11zM288 1078.1h26v6.6h-26zM288 1059h11v6.6h-11zM288 1039.8h11v6.6h-11zM288 1020.6h11v6.6h-11zM288 1001.4h11v6.6h-11zM288 982.2h11v6.6h-11zM288 963h11v6.6h-11zM288 943.9h11v6.6h-11zM288 924.7h11v6.6h-11zM288 905.5h11v6.6h-11zM288 886.3h26v6.6h-26zM288 867.1h11v6.6h-11zM288 848h11v6.6h-11zM288 828.8h11v6.6h-11zM288 809.6h11v6.6h-11zM288 790.4h11v6.6h-11zM288 771.2h11v6.6h-11zM288 752.1h11v6.6h-11zM288 732.9h11v6.6h-11zM288 713.7h11v6.6h-11zM288 694.5h26v6.6h-26zM288 675.3h11v6.6h-11zM288 656.2h11v6.6h-11zM288 637h11v6.6h-11zM288 617.8h11v6.6h-11zM288 598.6h11v6.6h-11zM288 579.4h11v6.6h-11zM288 560.3h11v6.6h-11zM288 541.1h11v6.6h-11zM288 521.9h11v6.6h-11zM288 502.7h26v6.6h-26zM288 483.5h11v6.6h-11zM288 464.4h11v6.6h-11zM288 445.2h11v6.6h-11zM288 426h11v6.6h-11zM288 406.8h11v6.6h-11zM288 387.6h11v6.6h-11zM288 368.5h11v6.6h-11zM288 349.3h11v6.6h-11zM288 330.1h11v6.6h-11zM288 310.9h26v6.6h-26zM288 291.7h11v6.6h-11zM288 272.5h11v6.6h-11zM288 253.4h11v6.6h-11zM288 234.2h11v6.6h-11zM288 215h11v6.6h-11zM288 195.8h11v6.6h-11zM288 176.6h11v6.6h-11zM288 157.5h11v6.6h-11zM288 138.3h11v6.6h-11zM288 119.1h26v6.6h-26zM288 99.9h11v6.6h-11zM288 80.7h11v6.6h-11zM288 61.6h11v6.6h-11zM288 42.4h11v6.6h-11z" fill="#000"/>
<path d="M311.9 1499h6.6v11h-6.6zM342.6 1499h6.6v11h-6.6zM373.3 1499h6.6v11h-6.6zM404.1 1499h6.6v11h-6.6zM434.8 1499h6.6v11h-6.6zM465.5 1499h6.6v11h-6.6zM496.2 1499h6.6v11h-6.6zM526.9 1499h6.6v11h-6.6zM557.6 1499h6.6v11h-6.6zM588.4 1484h6.6v26h-6.6zM619.1 1499h6.6v11h-6.6zM649.8 1499h6.6v11h-6.6zM680.5 1499h6.6v11h-6.6zM711.2 1499h6.6v11h-6.6zM741.9 1499h6.6v11h-6.6zM772.7 1499h6.6v11h-6.6zM803.4 1499h6.6v11h-6.6zM834.1 1499h6.6v11h-6.6zM864.8 1499h6.6v11h-6.6zM895.5 1484h6.6v26h-6.6zM926.2 1499h6.6v11h-6.6zM957 1499h6.6v11h-6.6zM987.7 1499h6.6v11h-6.6zM1018.4 1499h6.6v11h-6.6zM1049.1 1499h6.6v11h-6.6zM1079.8 1499h6.6v11h-6.6zM1110.5 1499h6.6v11h-6.6zM1141.3 1499h6.6v11h-6.6zM1172 1499h6.6v11h-6.6zM1202.7 1484h6.6v26h-6.6zM1233.4 1499h6.6v11h-6.6zM1264.1 1499h6.6v11h-6.6zM1294.8 1499h6.6v11h-6.6zM1325.6 1499h6.6v11h-6.6zM1356.3 1499h6.6v11h-6.6zM1387 1499h6.6v11h-6.6zM1417.7 1499h6.6v11h-6.6zM1448.4 1499h6.6v11h-6.6zM1479.1 1499h6.6v11h-6.6zM1509.9 1484h6.6v26h-6.6zM1540.6 1499h6.6v11h-6.6zM1571.3 1499h6.6v11h-6.6zM1602 1499h6.6v11h-6.6zM1632.7 1499h6.6v11h-6.6zM1663.4 1499h6.6v11h-6.6zM1694.2 1499h6.6v11h-6.6zM1724.9 1499h6.6v11h-6.6zM1755.6 1499h6.6v11h-6.6zM1786.3 1499h6.6v11h-6.6zM1817 1484h6.6v26h-6.6zM1847.7 1499h6.6v11h-6.6zM1878.5 1499h6.6v11h-6.6zM1909.2 1499h6.6v11h-6.6zM1939.9 1499h6.6v11h-6.6zM1970.6 1499h6.6v11h-6.6zM2001.3 1499h6.6v11h-6.6zM2032 1499h6.6v11h-6.6zM2062.8 1499h6.6v11h-6.6zM2093.5 1499h6.6v11h-6.6z" fill="#000"/>
<path d="M2113 1482.7h11v6.6h-11zM2113 1455.6h11v6.6h-11zM2113 1428.6h11v6.6h-11zM2113 1401.6h11v6.6h-11zM2113 1374.6h11v6.6h-11zM2113 1347.5h11v6.6h-11zM2113 1320.5h11v6.6h-11zM2113 1293.5h11v6.6h-11zM2113 1266.5h11v6.6h-11zM2098 1239.4h26v6.6h-26zM2113 1212.4h11v6.6h-11zM2113 1185.4h11v6.6h-11zM2113 1158.3h11v6.6h-11zM2113 1131.3h11v6.6h-11zM2113 1104.3h11v6.6h-11zM2113 1077.3h11v6.6h-11zM2113 1050.2h11v6.6h-11zM2113 1023.2h11v6.6h-11zM2113 996.2h11v6.6h-11zM2098 969.2h26v6.6h-26zM2113 942.1h11v6.6h-11zM2113 915.1h11v6.6h-11zM2113 888.1h11v6.6h-11zM2113 861.1h11v6.6h-11zM2113 834h11v6.6h-11zM2113 807h11v6.6h-11zM2113 780h11v6.6h-11zM2113 752.9h11v6.6h-11zM2113 725.9h11v6.6h-11zM2098 698.9h26v6.6h-26zM2113 671.9h11v6.6h-11zM2113 644.8h11v6.6h-11zM2113 617.8h11v6.6h-11zM2113 590.8h11v6.6h-11zM2113 563.8h11v6.6h-11zM2113 536.7h11v6.6h-11zM2113 509.7h11v6.6h-11zM2113 482.7h11v6.6h-11zM2113 455.6h11v6.6h-11zM2098 428.6h26v6.6h-26zM2113 401.6h11v6.6h-11zM2113 374.6h11v6.6h-11zM2113 347.5h11v6.6h-11zM2113 320.5h11v6.6h-11zM2113 293.5h11v6.6h-11zM2113 266.5h11v6.6h-11zM2113 239.4h11v6.6h-11zM2113 212.4h11v6.6h-11zM2113 185.4h11v6.6h-11zM2098 158.4h26v6.6h-26zM2113 131.3h11v6.6h-11zM2113 104.3h11v6.6h-11zM2113 77.3h11v6.6h-11zM2113 50.2h11v6.6h-11z" fill="#FF4040"/>
<rect x="281" y="23" width="7" height="1493" fill="#000"/>
<rect x="281" y="23" width="1832" height="7" fill="#000"/>
<rect x="2113" y="23" width="18" height="7" fill="#FF4040"/>
<rect x="281" y="1509.8" width="1817" height="6.2" fill="#000"/>
<rect x="2098" y="1509.8" width="33" height="6.2" fill="#FF4040"/>
<rect x="2124.2" y="23" width="6.8" height="1493" fill="#FF4040"/>
<g font-family="'Liberation Sans', Arial, sans-serif" font-size="63" fill="#000" text-anchor="end">
<text transform="translate(253.5,1485) scale(1,1.06)">1.6</text>
<text transform="translate(253.5,1293.2) scale(1,1.06)">1.8</text>
<text transform="translate(253.5,1101.4) scale(1,1.06)">2.0</text>
<text transform="translate(253.5,909.6) scale(1,1.06)">2.2</text>
<text transform="translate(253.5,717.8) scale(1,1.06)">2.4</text>
<text transform="translate(253.5,526) scale(1,1.06)">2.6</text>
<text transform="translate(253.5,334.2) scale(1,1.06)">2.8</text>
<text transform="translate(253.5,142.4) scale(1,1.06)">3.0</text>
</g>
<g font-family="'Liberation Sans', Arial, sans-serif" font-size="63" fill="#000" text-anchor="middle">
<text transform="translate(285.5,1593.8) scale(1,1.025)">1.5</text>
<text transform="translate(592.7,1593.8) scale(1,1.025)">2.0</text>
<text transform="translate(899.8,1593.8) scale(1,1.025)">2.5</text>
<text transform="translate(1207,1593.8) scale(1,1.025)">3.0</text>
<text transform="translate(1514.2,1593.8) scale(1,1.025)">3.5</text>
<text transform="translate(1821.3,1593.8) scale(1,1.025)">4.0</text>
<text transform="translate(2128.5,1593.8) scale(1,1.025)">4.5</text>
</g>
<g font-family="'Liberation Sans', Arial, sans-serif" font-size="63" fill="#FF4040">
<text transform="translate(2159.4,1533) scale(1,1.045)">0</text>
<text transform="translate(2159.4,1262.7) scale(1,1.045)">1</text>
<text transform="translate(2159.4,992.5) scale(1,1.045)">2</text>
<text transform="translate(2159.4,722.2) scale(1,1.045)">3</text>
<text transform="translate(2159.4,451.9) scale(1,1.045)">4</text>
<text transform="translate(2159.4,181.7) scale(1,1.045)">5</text>
</g>
<!-- axis titles -->
<text class="serif" font-size="66.7" transform="translate(81,1262.8) rotate(-90)" fill="#000">Real dielectric constants (<tspan>ε</tspan><tspan font-size="44" dy="12">1</tspan><tspan dy="-12">) (Fm</tspan><tspan font-size="44" dy="-27">-1</tspan><tspan dy="27">)</tspan></text>
<text class="serif" font-size="66.7" transform="translate(2290.5,1419.3) rotate(-90)" fill="#FF0000">Imaginary dielectric constants (<tspan fill="#0000FF">ε</tspan><tspan fill="#0000FF" font-size="44" dy="12">2</tspan><tspan dy="-12">) (Fm</tspan><tspan font-size="44" dy="-27">-1</tspan><tspan dy="27">)× 10</tspan><tspan font-size="44" dy="-27">-8</tspan></text>
<text class="serif" font-size="68" x="841" y="1692.4" fill="#000">Photon energy <tspan font-weight="bold">(</tspan>h<tspan font-weight="bold">ν</tspan>) (eV)</text>
<!-- panel label -->
<text class="sans" font-size="75" x="378.3" y="111.4" fill="#FF0000">(a)</text>
<!-- legend -->
<g>
<path d="M339 193.4H377M414 193.4H452" stroke="#000" stroke-width="3"/>
<rect x="381" y="178" width="29" height="29.8" fill="#000"/>
<path d="M338 271H378M413 271H453" stroke="#0000FF" stroke-width="4"/>
<rect x="382.4" y="257.5" width="26.2" height="27" fill="#fff" stroke="#0000FF" stroke-width="2.8"/>
<path d="M339 349H377M414 349H452" stroke="#008000" stroke-width="2.5"/>
<rect x="381" y="334.8" width="29" height="29" fill="#008000"/>
<path d="M339 427H377M414 427H452" stroke="#FF4040" stroke-width="2.5"/>
<rect x="381" y="412.8" width="29" height="29.4" fill="#FF4040"/>
</g>
<g class="sans" font-size="49.2" fill="#000">
<text y="209.7"><tspan x="463.6" class="serif" font-size="52.6">ε</tspan><tspan x="484.7" y="223.2" font-size="33.5">1</tspan><tspan x="503.5" y="209.7">(</tspan><tspan x="523.4" font-family="'DejaVu Serif Condensed','DejaVu Serif',serif" font-style="italic" font-size="48.4">λ</tspan><tspan x="548.4">)</tspan><tspan x="577.4">[POPD/TiO</tspan><tspan x="823.6" y="223.2" font-size="33.5">2</tspan><tspan x="842.5" y="209.7">]</tspan><tspan x="856.5" y="189.29999999999998" font-size="33.5">MNC</tspan></text>
<text y="287.7"><tspan x="463.6" class="serif" font-size="52.6">ε</tspan><tspan x="484.7" y="301.2" font-size="33.5">2</tspan><tspan x="503.5" y="287.7">(</tspan><tspan x="523.4" font-family="'DejaVu Serif Condensed','DejaVu Serif',serif" font-style="italic" font-size="48.4">λ</tspan><tspan x="548.4">)</tspan><tspan x="577.4">[POPD/TiO</tspan><tspan x="823.6" y="301.2" font-size="33.5">2</tspan><tspan x="842.5" y="287.7">]</tspan><tspan x="856.5" y="267.3" font-size="33.5">MNC</tspan></text>
<text y="366"><tspan x="463.6" class="serif" font-size="52.6">ε</tspan><tspan x="484.7" y="379.5" font-size="33.5">1</tspan><tspan x="503.5" y="366">(</tspan><tspan x="523.4" font-family="'DejaVu Serif Condensed','DejaVu Serif',serif" font-style="italic" font-size="48.4">λ</tspan><tspan x="548.4">)</tspan><tspan x="577.4">[POPD]</tspan><tspan dy="-20.4" font-size="33.5">TF</tspan></text>
<text y="444.3"><tspan x="463.6" class="serif" font-size="52.6">ε</tspan><tspan x="484.7" y="457.8" font-size="33.5">2</tspan><tspan x="503.5" y="444.3">(</tspan><tspan x="523.4" font-family="'DejaVu Serif Condensed','DejaVu Serif',serif" font-style="italic" font-size="48.4">λ</tspan><tspan x="548.4">)</tspan><tspan x="577.4">[POPD]</tspan><tspan dy="-20.4" font-size="33.5">TF</tspan></text>
</g>
<!-- peak annotations -->
<g class="sans" font-size="49.4">
<text x="991.3" y="331.5" fill="#0000FF">(4.309E-8)</text>
<text x="1021" y="449.7" fill="#000">(2.667)</text>
<text x="1698.4" y="168" fill="#008000">(2.961)</text>
<text x="1733.9" y="299" fill="#FF0000">(4.494E-8)</text>
</g>
<g stroke="#000" stroke-width="3" fill="none">
<line x1="975.7" y1="344.6" x2="992.7" y2="342.1"/>
<line x1="973.1" y1="439" x2="1021.6" y2="433.1"/>
<line x1="1680.2" y1="155.8" x2="1700" y2="149.9"/>
<line x1="1680.2" y1="293.7" x2="1735" y2="281.9"/>
</g>
<!-- vertical arrows -->
<line x1="947.8" y1="334" x2="947.8" y2="825" stroke="#000" stroke-width="3"/>
<path d="M937.3 819L958.3 819L947.8 857.2Z" fill="#000"/>
<line x1="1657.6" y1="164.2" x2="1657.6" y2="440" stroke="#000" stroke-width="3"/>
<path d="M1647.5 434.9L1667.8 434.9L1657.6 474.5Z" fill="#000"/>
<text class="serif" font-weight="bold" font-size="47.5" transform="translate(970.4,1166.8) rotate(-90)" fill="#000" textLength="284" lengthAdjust="spacing">hν= 2.569 eV</text>
<text class="serif" font-weight="bold" font-size="46" transform="translate(1668.3,813) rotate(-90)" fill="#FF0000" textLength="273.5" lengthAdjust="spacing">hν= 3.725 eV</text>
<!-- side labels -->
<g class="serif" fill="#FF0000">
<text x="1963.4" y="891" font-size="86">ε</text>
<text x="1998.4" y="911.8" font-size="53">2</text>
<text x="2026.6" y="894.3" font-size="77">(</text>
<text x="2051.5" y="891.7" font-size="75.6" font-family="'DejaVu Serif Condensed','DejaVu Serif',serif" font-style="italic">λ</text>
<text x="2085.5" y="894.3" font-size="77">)</text>
</g>
<line x1="1947" y1="977.3" x2="2082" y2="977.3" stroke="#000" stroke-width="3"/>
<path d="M2078 966.9L2078 986.9L2116.6 977.3Z" fill="#000"/>
<g class="serif" fill="#000">
<text x="317.4" y="1383.2" font-size="86">ε</text>
<text x="352.8" y="1404" font-size="53">1</text>
<text x="380.7" y="1386.5" font-size="76.5">(</text>
<text x="405.2" y="1384" font-size="75.6" font-family="'DejaVu Serif Condensed','DejaVu Serif',serif" font-style="italic">λ</text>
<text x="440" y="1386.5" font-size="76.5">)</text>
</g>
<circle cx="525.3" cy="1458.3" r="38" fill="#D3D3D3" stroke="#000" stroke-width="3"/>
<line x1="336" y1="1460.6" x2="527.6" y2="1460.6" stroke="#000" stroke-width="3"/>
<path d="M340 1450.2L340 1471L301 1460.6Z" fill="#000"/>
</svg>
</body></html>
